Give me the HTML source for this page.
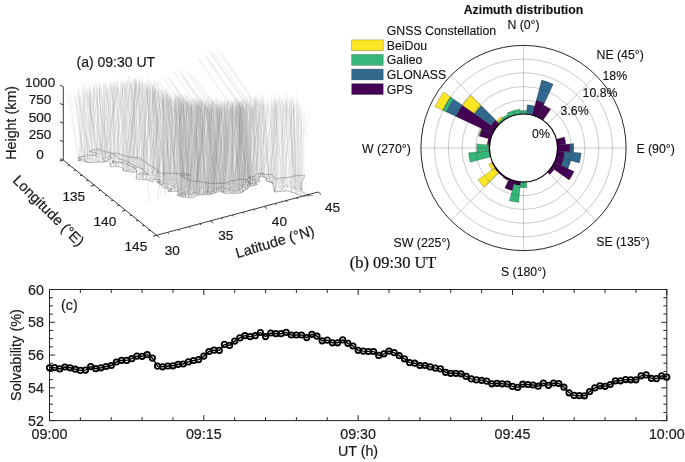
<!DOCTYPE html>
<html><head><meta charset="utf-8"><title>GNSS figure</title>
<style>html,body{margin:0;padding:0;background:#fff;overflow:hidden}svg{display:block}svg{will-change:transform}</style>
</head><body><svg width="685" height="462" viewBox="0 0 685 462"><g font-family='"Liberation Sans", sans-serif' font-size="14.3" fill="#1a1a1a" stroke="#1a1a1a" stroke-width="0.2"><rect x="49.5" y="289.5" width="617.3" height="131.1" fill="none" stroke="#262626" stroke-width="1"/><path d="M49.50 420.6v-5.5M49.50 289.5v5.5M80.36 420.6v-3.4M80.36 289.5v3.4M111.23 420.6v-3.4M111.23 289.5v3.4M142.09 420.6v-3.4M142.09 289.5v3.4M172.96 420.6v-3.4M172.96 289.5v3.4M203.82 420.6v-5.5M203.82 289.5v5.5M234.69 420.6v-3.4M234.69 289.5v3.4M265.55 420.6v-3.4M265.55 289.5v3.4M296.42 420.6v-3.4M296.42 289.5v3.4M327.28 420.6v-3.4M327.28 289.5v3.4M358.15 420.6v-5.5M358.15 289.5v5.5M389.01 420.6v-3.4M389.01 289.5v3.4M419.88 420.6v-3.4M419.88 289.5v3.4M450.75 420.6v-3.4M450.75 289.5v3.4M481.61 420.6v-3.4M481.61 289.5v3.4M512.48 420.6v-5.5M512.48 289.5v5.5M543.34 420.6v-3.4M543.34 289.5v3.4M574.20 420.6v-3.4M574.20 289.5v3.4M605.07 420.6v-3.4M605.07 289.5v3.4M635.93 420.6v-3.4M635.93 289.5v3.4M666.80 420.6v-5.5M666.80 289.5v5.5M49.5 289.50h5.5M666.8 289.50h-5.5M49.5 297.69h3.4M666.8 297.69h-3.4M49.5 305.89h3.4M666.8 305.89h-3.4M49.5 314.08h3.4M666.8 314.08h-3.4M49.5 322.27h5.5M666.8 322.27h-5.5M49.5 330.47h3.4M666.8 330.47h-3.4M49.5 338.66h3.4M666.8 338.66h-3.4M49.5 346.86h3.4M666.8 346.86h-3.4M49.5 355.05h5.5M666.8 355.05h-5.5M49.5 363.24h3.4M666.8 363.24h-3.4M49.5 371.44h3.4M666.8 371.44h-3.4M49.5 379.63h3.4M666.8 379.63h-3.4M49.5 387.83h5.5M666.8 387.83h-5.5M49.5 396.02h3.4M666.8 396.02h-3.4M49.5 404.21h3.4M666.8 404.21h-3.4M49.5 412.41h3.4M666.8 412.41h-3.4M49.5 420.60h5.5M666.8 420.60h-5.5" stroke="#262626" stroke-width="1" fill="none"/><path d="M49.50 367.80L54.64 367.60L59.79 368.90L64.93 367.00L70.08 367.80L75.22 369.20L80.36 370.40L85.51 370.10L90.65 366.60L95.80 368.70L100.94 367.80L106.09 366.50L111.23 365.50L116.37 362.00L121.52 360.30L126.66 360.40L131.81 358.70L136.95 356.10L142.09 356.30L147.24 354.70L152.38 358.10L157.53 366.10L162.67 366.80L167.82 366.00L172.96 365.80L178.10 364.30L183.25 364.00L188.39 361.90L193.54 360.50L198.68 359.60L203.82 356.10L208.97 351.50L214.11 350.10L219.26 350.40L224.40 344.40L229.55 345.40L234.69 341.10L239.83 337.90L244.98 335.70L250.12 336.60L255.27 335.70L260.41 332.50L265.55 336.60L270.70 333.00L275.84 333.70L280.99 333.70L286.13 332.40L291.28 335.00L296.42 335.00L301.56 335.00L306.71 337.60L311.85 334.30L317.00 336.20L322.14 340.80L327.28 340.10L332.43 342.80L337.57 342.80L342.72 339.90L347.86 343.30L353.01 346.00L358.15 350.30L363.29 351.10L368.44 351.50L373.58 351.50L378.73 355.40L383.87 353.80L389.01 351.10L394.16 352.60L399.30 355.70L404.45 358.80L409.59 362.60L414.74 363.20L419.88 365.50L425.02 365.50L430.17 366.90L435.31 368.10L440.46 368.90L445.60 372.30L450.74 373.30L455.89 373.30L461.03 373.80L466.18 376.40L471.32 378.90L476.47 379.90L481.61 380.30L486.75 381.10L491.90 383.80L497.04 383.30L502.19 383.80L507.33 384.00L512.47 386.40L517.62 387.40L522.76 384.20L527.91 384.50L533.05 385.00L538.20 386.20L543.34 383.00L548.48 385.30L553.63 383.00L558.77 383.50L563.92 387.20L569.06 392.80L574.21 395.40L579.35 395.70L584.49 395.80L589.64 391.60L594.78 387.90L599.93 385.80L605.07 386.30L610.21 384.50L615.36 380.80L620.50 380.80L625.65 379.60L630.79 379.80L635.93 379.80L641.08 375.80L646.22 374.90L651.37 378.30L656.51 378.60L661.66 375.80L666.80 377.10" stroke="#000" stroke-width="1.4" fill="none"/><g fill="none" stroke="#000" stroke-width="1.8"><circle cx="49.50" cy="367.80" r="2.7"/><circle cx="54.64" cy="367.60" r="2.7"/><circle cx="59.79" cy="368.90" r="2.7"/><circle cx="64.93" cy="367.00" r="2.7"/><circle cx="70.08" cy="367.80" r="2.7"/><circle cx="75.22" cy="369.20" r="2.7"/><circle cx="80.36" cy="370.40" r="2.7"/><circle cx="85.51" cy="370.10" r="2.7"/><circle cx="90.65" cy="366.60" r="2.7"/><circle cx="95.80" cy="368.70" r="2.7"/><circle cx="100.94" cy="367.80" r="2.7"/><circle cx="106.09" cy="366.50" r="2.7"/><circle cx="111.23" cy="365.50" r="2.7"/><circle cx="116.37" cy="362.00" r="2.7"/><circle cx="121.52" cy="360.30" r="2.7"/><circle cx="126.66" cy="360.40" r="2.7"/><circle cx="131.81" cy="358.70" r="2.7"/><circle cx="136.95" cy="356.10" r="2.7"/><circle cx="142.09" cy="356.30" r="2.7"/><circle cx="147.24" cy="354.70" r="2.7"/><circle cx="152.38" cy="358.10" r="2.7"/><circle cx="157.53" cy="366.10" r="2.7"/><circle cx="162.67" cy="366.80" r="2.7"/><circle cx="167.82" cy="366.00" r="2.7"/><circle cx="172.96" cy="365.80" r="2.7"/><circle cx="178.10" cy="364.30" r="2.7"/><circle cx="183.25" cy="364.00" r="2.7"/><circle cx="188.39" cy="361.90" r="2.7"/><circle cx="193.54" cy="360.50" r="2.7"/><circle cx="198.68" cy="359.60" r="2.7"/><circle cx="203.82" cy="356.10" r="2.7"/><circle cx="208.97" cy="351.50" r="2.7"/><circle cx="214.11" cy="350.10" r="2.7"/><circle cx="219.26" cy="350.40" r="2.7"/><circle cx="224.40" cy="344.40" r="2.7"/><circle cx="229.55" cy="345.40" r="2.7"/><circle cx="234.69" cy="341.10" r="2.7"/><circle cx="239.83" cy="337.90" r="2.7"/><circle cx="244.98" cy="335.70" r="2.7"/><circle cx="250.12" cy="336.60" r="2.7"/><circle cx="255.27" cy="335.70" r="2.7"/><circle cx="260.41" cy="332.50" r="2.7"/><circle cx="265.55" cy="336.60" r="2.7"/><circle cx="270.70" cy="333.00" r="2.7"/><circle cx="275.84" cy="333.70" r="2.7"/><circle cx="280.99" cy="333.70" r="2.7"/><circle cx="286.13" cy="332.40" r="2.7"/><circle cx="291.28" cy="335.00" r="2.7"/><circle cx="296.42" cy="335.00" r="2.7"/><circle cx="301.56" cy="335.00" r="2.7"/><circle cx="306.71" cy="337.60" r="2.7"/><circle cx="311.85" cy="334.30" r="2.7"/><circle cx="317.00" cy="336.20" r="2.7"/><circle cx="322.14" cy="340.80" r="2.7"/><circle cx="327.28" cy="340.10" r="2.7"/><circle cx="332.43" cy="342.80" r="2.7"/><circle cx="337.57" cy="342.80" r="2.7"/><circle cx="342.72" cy="339.90" r="2.7"/><circle cx="347.86" cy="343.30" r="2.7"/><circle cx="353.01" cy="346.00" r="2.7"/><circle cx="358.15" cy="350.30" r="2.7"/><circle cx="363.29" cy="351.10" r="2.7"/><circle cx="368.44" cy="351.50" r="2.7"/><circle cx="373.58" cy="351.50" r="2.7"/><circle cx="378.73" cy="355.40" r="2.7"/><circle cx="383.87" cy="353.80" r="2.7"/><circle cx="389.01" cy="351.10" r="2.7"/><circle cx="394.16" cy="352.60" r="2.7"/><circle cx="399.30" cy="355.70" r="2.7"/><circle cx="404.45" cy="358.80" r="2.7"/><circle cx="409.59" cy="362.60" r="2.7"/><circle cx="414.74" cy="363.20" r="2.7"/><circle cx="419.88" cy="365.50" r="2.7"/><circle cx="425.02" cy="365.50" r="2.7"/><circle cx="430.17" cy="366.90" r="2.7"/><circle cx="435.31" cy="368.10" r="2.7"/><circle cx="440.46" cy="368.90" r="2.7"/><circle cx="445.60" cy="372.30" r="2.7"/><circle cx="450.74" cy="373.30" r="2.7"/><circle cx="455.89" cy="373.30" r="2.7"/><circle cx="461.03" cy="373.80" r="2.7"/><circle cx="466.18" cy="376.40" r="2.7"/><circle cx="471.32" cy="378.90" r="2.7"/><circle cx="476.47" cy="379.90" r="2.7"/><circle cx="481.61" cy="380.30" r="2.7"/><circle cx="486.75" cy="381.10" r="2.7"/><circle cx="491.90" cy="383.80" r="2.7"/><circle cx="497.04" cy="383.30" r="2.7"/><circle cx="502.19" cy="383.80" r="2.7"/><circle cx="507.33" cy="384.00" r="2.7"/><circle cx="512.47" cy="386.40" r="2.7"/><circle cx="517.62" cy="387.40" r="2.7"/><circle cx="522.76" cy="384.20" r="2.7"/><circle cx="527.91" cy="384.50" r="2.7"/><circle cx="533.05" cy="385.00" r="2.7"/><circle cx="538.20" cy="386.20" r="2.7"/><circle cx="543.34" cy="383.00" r="2.7"/><circle cx="548.48" cy="385.30" r="2.7"/><circle cx="553.63" cy="383.00" r="2.7"/><circle cx="558.77" cy="383.50" r="2.7"/><circle cx="563.92" cy="387.20" r="2.7"/><circle cx="569.06" cy="392.80" r="2.7"/><circle cx="574.21" cy="395.40" r="2.7"/><circle cx="579.35" cy="395.70" r="2.7"/><circle cx="584.49" cy="395.80" r="2.7"/><circle cx="589.64" cy="391.60" r="2.7"/><circle cx="594.78" cy="387.90" r="2.7"/><circle cx="599.93" cy="385.80" r="2.7"/><circle cx="605.07" cy="386.30" r="2.7"/><circle cx="610.21" cy="384.50" r="2.7"/><circle cx="615.36" cy="380.80" r="2.7"/><circle cx="620.50" cy="380.80" r="2.7"/><circle cx="625.65" cy="379.60" r="2.7"/><circle cx="630.79" cy="379.80" r="2.7"/><circle cx="635.93" cy="379.80" r="2.7"/><circle cx="641.08" cy="375.80" r="2.7"/><circle cx="646.22" cy="374.90" r="2.7"/><circle cx="651.37" cy="378.30" r="2.7"/><circle cx="656.51" cy="378.60" r="2.7"/><circle cx="661.66" cy="375.80" r="2.7"/><circle cx="666.80" cy="377.10" r="2.7"/></g><text x="44" y="294.5" text-anchor="end">60</text><text x="44" y="327.3" text-anchor="end">58</text><text x="44" y="360.1" text-anchor="end">56</text><text x="44" y="392.8" text-anchor="end">54</text><text x="44" y="425.6" text-anchor="end">52</text><text x="49.5" y="439" text-anchor="middle">09:00</text><text x="203.8" y="439" text-anchor="middle">09:15</text><text x="358.1" y="439" text-anchor="middle">09:30</text><text x="512.5" y="439" text-anchor="middle">09:45</text><text x="666.8" y="439" text-anchor="middle">10:00</text><text x="358" y="455.6" text-anchor="middle">UT (h)</text><text transform="translate(20.6,355) rotate(-90)" text-anchor="middle" font-size="14.5">Solvability (%)</text><text x="61" y="310">(c)</text></g><g><path d="M520.23 110.64A37.5 37.5 0 0 1 526.77 110.64L526.46 114.13A34 34 0 0 0 520.54 114.13Z" fill="#35b779" stroke="#000" stroke-opacity="0.35" stroke-width="0.6"/><path d="M527.28 104.77A43.4 43.4 0 0 1 534.73 106.08L532.30 115.16A34 34 0 0 0 526.46 114.13Z" fill="#31688e" stroke="#000" stroke-opacity="0.35" stroke-width="0.6"/><path d="M536.29 100.28A49.4 49.4 0 0 1 544.38 103.23L537.87 117.19A34 34 0 0 0 532.30 115.16Z" fill="#440154" stroke="#000" stroke-opacity="0.35" stroke-width="0.6"/><path d="M541.69 80.10A70.3 70.3 0 0 1 553.21 84.29L544.38 103.23A49.4 49.4 0 0 0 536.29 100.28Z" fill="#31688e" stroke="#000" stroke-opacity="0.35" stroke-width="0.6"/><path d="M543.49 105.13A47.3 47.3 0 0 1 550.63 109.25L543.00 120.15A34 34 0 0 0 537.87 117.19Z" fill="#440154" stroke="#000" stroke-opacity="0.35" stroke-width="0.6"/><path d="M564.46 137.03A42.4 42.4 0 0 1 565.74 144.30L557.37 145.04A34 34 0 0 0 556.34 139.20Z" fill="#440154" stroke="#000" stroke-opacity="0.35" stroke-width="0.6"/><path d="M569.72 143.96A46.4 46.4 0 0 1 569.72 152.04L557.37 150.96A34 34 0 0 0 557.37 145.04Z" fill="#440154" stroke="#000" stroke-opacity="0.35" stroke-width="0.6"/><path d="M573.61 143.62A50.3 50.3 0 0 1 573.61 152.38L569.72 152.04A46.4 46.4 0 0 0 569.72 143.96Z" fill="#31688e" stroke="#000" stroke-opacity="0.35" stroke-width="0.6"/><path d="M564.74 151.61A41.4 41.4 0 0 1 563.49 158.72L556.34 156.80A34 34 0 0 0 557.37 150.96Z" fill="#440154" stroke="#000" stroke-opacity="0.35" stroke-width="0.6"/><path d="M581.18 153.05A57.9 57.9 0 0 1 579.43 162.99L563.49 158.72A41.4 41.4 0 0 0 564.74 151.61Z" fill="#31688e" stroke="#000" stroke-opacity="0.35" stroke-width="0.6"/><path d="M563.59 158.74A41.5 41.5 0 0 1 561.11 165.54L554.31 162.37A34 34 0 0 0 556.34 156.80Z" fill="#440154" stroke="#000" stroke-opacity="0.35" stroke-width="0.6"/><path d="M570.83 160.68A49.0 49.0 0 0 1 567.91 168.71L561.11 165.54A41.5 41.5 0 0 0 563.59 158.74Z" fill="#31688e" stroke="#000" stroke-opacity="0.35" stroke-width="0.6"/><path d="M574.07 171.58A55.8 55.8 0 0 1 569.21 180.01L551.35 167.50A34 34 0 0 0 554.31 162.37Z" fill="#440154" stroke="#000" stroke-opacity="0.35" stroke-width="0.6"/><path d="M554.05 169.39A37.3 37.3 0 0 1 549.88 174.38L547.54 172.04A34 34 0 0 0 551.35 167.50Z" fill="#440154" stroke="#000" stroke-opacity="0.35" stroke-width="0.6"/><path d="M526.96 187.55A39.7 39.7 0 0 1 520.04 187.55L520.54 181.87A34 34 0 0 0 526.46 181.87Z" fill="#35b779" stroke="#000" stroke-opacity="0.35" stroke-width="0.6"/><path d="M520.24 185.26A37.4 37.4 0 0 1 513.82 184.13L514.70 180.84A34 34 0 0 0 520.54 181.87Z" fill="#440154" stroke="#000" stroke-opacity="0.35" stroke-width="0.6"/><path d="M518.74 202.39A54.6 54.6 0 0 1 509.37 200.74L513.82 184.13A37.4 37.4 0 0 0 520.24 185.26Z" fill="#35b779" stroke="#000" stroke-opacity="0.35" stroke-width="0.6"/><path d="M512.11 190.50A44.0 44.0 0 0 1 504.90 187.88L509.13 178.81A34 34 0 0 0 514.70 180.84Z" fill="#440154" stroke="#000" stroke-opacity="0.35" stroke-width="0.6"/><path d="M508.37 180.45A35.8 35.8 0 0 1 502.97 177.33L504.00 175.85A34 34 0 0 0 509.13 178.81Z" fill="#440154" stroke="#000" stroke-opacity="0.35" stroke-width="0.6"/><path d="M503.31 176.83A35.2 35.2 0 0 1 498.61 172.89L499.46 172.04A34 34 0 0 0 504.00 175.85Z" fill="#440154" stroke="#000" stroke-opacity="0.35" stroke-width="0.6"/><path d="M498.47 173.03A35.4 35.4 0 0 1 494.50 168.30L495.65 167.50A34 34 0 0 0 499.46 172.04Z" fill="#440154" stroke="#000" stroke-opacity="0.35" stroke-width="0.6"/><path d="M484.26 187.24A55.5 55.5 0 0 1 478.04 179.83L494.50 168.30A35.4 35.4 0 0 0 498.47 173.03Z" fill="#fde725" stroke="#000" stroke-opacity="0.35" stroke-width="0.6"/><path d="M494.83 168.08A35.0 35.0 0 0 1 491.78 162.79L492.69 162.37A34 34 0 0 0 495.65 167.50Z" fill="#440154" stroke="#000" stroke-opacity="0.35" stroke-width="0.6"/><path d="M492.13 169.97A38.3 38.3 0 0 1 488.79 164.19L491.78 162.79A35.0 35.0 0 0 0 494.83 168.08Z" fill="#fde725" stroke="#000" stroke-opacity="0.35" stroke-width="0.6"/><path d="M490.08 156.96A34.6 34.6 0 0 1 489.03 151.02L489.63 150.96A34 34 0 0 0 490.66 156.80Z" fill="#440154" stroke="#000" stroke-opacity="0.35" stroke-width="0.6"/><path d="M470.18 162.29A55.2 55.2 0 0 1 468.51 152.81L489.03 151.02A34.6 34.6 0 0 0 490.08 156.96Z" fill="#35b779" stroke="#000" stroke-opacity="0.35" stroke-width="0.6"/><path d="M488.63 151.05A35.0 35.0 0 0 1 488.63 144.95L489.63 145.04A34 34 0 0 0 489.63 150.96Z" fill="#440154" stroke="#000" stroke-opacity="0.35" stroke-width="0.6"/><path d="M476.98 152.07A46.7 46.7 0 0 1 476.98 143.93L488.63 144.95A35.0 35.0 0 0 0 488.63 151.05Z" fill="#35b779" stroke="#000" stroke-opacity="0.35" stroke-width="0.6"/><path d="M487.24 144.83A36.4 36.4 0 0 1 488.34 138.58L490.66 139.20A34 34 0 0 0 489.63 145.04Z" fill="#440154" stroke="#000" stroke-opacity="0.35" stroke-width="0.6"/><path d="M479.45 136.20A45.6 45.6 0 0 1 482.17 128.73L492.69 133.63A34 34 0 0 0 490.66 139.20Z" fill="#440154" stroke="#000" stroke-opacity="0.35" stroke-width="0.6"/><path d="M478.97 136.07A46.1 46.1 0 0 1 481.72 128.52L482.17 128.73A45.6 45.6 0 0 0 479.45 136.20Z" fill="#35b779" stroke="#000" stroke-opacity="0.35" stroke-width="0.6"/><path d="M478.58 135.96A46.5 46.5 0 0 1 481.36 128.35L481.72 128.52A46.1 46.1 0 0 0 478.97 136.07Z" fill="#fde725" stroke="#000" stroke-opacity="0.35" stroke-width="0.6"/><path d="M455.98 116.51A74.5 74.5 0 0 1 462.47 105.27L495.65 128.50A34 34 0 0 0 492.69 133.63Z" fill="#440154" stroke="#000" stroke-opacity="0.35" stroke-width="0.6"/><path d="M446.01 111.87A85.5 85.5 0 0 1 453.46 98.96L462.47 105.27A74.5 74.5 0 0 0 455.98 116.51Z" fill="#31688e" stroke="#000" stroke-opacity="0.35" stroke-width="0.6"/><path d="M442.66 110.30A89.2 89.2 0 0 1 450.43 96.84L453.46 98.96A85.5 85.5 0 0 0 446.01 111.87Z" fill="#35b779" stroke="#000" stroke-opacity="0.35" stroke-width="0.6"/><path d="M435.04 106.75A97.6 97.6 0 0 1 443.55 92.02L450.43 96.84A89.2 89.2 0 0 0 442.66 110.30Z" fill="#fde725" stroke="#000" stroke-opacity="0.35" stroke-width="0.6"/><path d="M491.14 125.34A39.5 39.5 0 0 1 495.57 120.07L499.46 123.96A34 34 0 0 0 495.65 128.50Z" fill="#440154" stroke="#000" stroke-opacity="0.35" stroke-width="0.6"/><path d="M474.35 113.59A60.0 60.0 0 0 1 481.07 105.57L495.57 120.07A39.5 39.5 0 0 0 491.14 125.34Z" fill="#31688e" stroke="#000" stroke-opacity="0.35" stroke-width="0.6"/><path d="M462.39 105.21A74.6 74.6 0 0 1 470.75 95.25L481.07 105.57A60.0 60.0 0 0 0 474.35 113.59Z" fill="#fde725" stroke="#000" stroke-opacity="0.35" stroke-width="0.6"/><path d="M497.76 122.26A36.4 36.4 0 0 1 502.62 118.18L504.00 120.15A34 34 0 0 0 499.46 123.96Z" fill="#35b779" stroke="#000" stroke-opacity="0.35" stroke-width="0.6"/><path d="M496.49 120.99A38.2 38.2 0 0 1 501.59 116.71L502.62 118.18A36.4 36.4 0 0 0 497.76 122.26Z" fill="#fde725" stroke="#000" stroke-opacity="0.35" stroke-width="0.6"/><path d="M502.28 117.69A37.0 37.0 0 0 1 507.86 114.47L509.13 117.19A34 34 0 0 0 504.00 120.15Z" fill="#35b779" stroke="#000" stroke-opacity="0.35" stroke-width="0.6"/><path d="M507.19 113.02A38.6 38.6 0 0 1 513.51 110.72L514.70 115.16A34 34 0 0 0 509.13 117.19Z" fill="#35b779" stroke="#000" stroke-opacity="0.35" stroke-width="0.6"/><path d="M513.46 110.52A38.8 38.8 0 0 1 520.12 109.35L520.54 114.13A34 34 0 0 0 514.70 115.16Z" fill="#35b779" stroke="#000" stroke-opacity="0.35" stroke-width="0.6"/><g fill="none" stroke="#262626" stroke-opacity="0.27" stroke-width="0.9"><circle cx="523.5" cy="148.0" r="47.72"/><circle cx="523.5" cy="148.0" r="61.44"/><circle cx="523.5" cy="148.0" r="75.16"/><circle cx="523.5" cy="148.0" r="88.88"/><path d="M523.50 114.00L523.50 45.40"/><path d="M547.54 123.96L596.05 75.45"/><path d="M557.50 148.00L626.10 148.00"/><path d="M547.54 172.04L596.05 220.55"/><path d="M523.50 182.00L523.50 250.60"/><path d="M499.46 172.04L450.95 220.55"/><path d="M489.50 148.00L420.90 148.00"/><path d="M499.46 123.96L450.95 75.45"/></g><circle cx="523.5" cy="148.0" r="102.6" fill="none" stroke="#262626" stroke-width="1"/><circle cx="523.5" cy="148.0" r="34.0" fill="none" stroke="#000" stroke-width="1.1"/></g><g font-family='"Liberation Sans", sans-serif' font-size="12.3" fill="#111" stroke="#111" stroke-width="0.12"><text x="523.5" y="13.9" text-anchor="middle" font-weight="bold">Azimuth distribution</text><text x="523.5" y="28.6" text-anchor="middle">N (0°)</text><text x="596.5" y="58.7">NE (45°)</text><text x="636.4" y="153">E (90°)</text><text x="596.2" y="246.1">SE (135°)</text><text x="523.6" y="275.8" text-anchor="middle">S (180°)</text><text x="393.6" y="247">SW (225°)</text><text x="362.1" y="153.4">W (270°)</text><text x="602.5" y="79.7">18%</text><text x="582.6" y="97">10.8%</text><text x="560.6" y="114.9">3.6%</text><text x="532.1" y="137.5">0%</text><text x="386.8" y="34.9">GNSS Constellation</text><rect x="351.7" y="39.9" width="31.5" height="10.8" fill="#fde725" stroke="#000" stroke-opacity="0.4" stroke-width="0.6"/><text x="386.8" y="49.7">BeiDou</text><rect x="351.7" y="54.5" width="31.5" height="10.8" fill="#35b779" stroke="#000" stroke-opacity="0.4" stroke-width="0.6"/><text x="386.8" y="64.3">Galieo</text><rect x="351.7" y="69.1" width="31.5" height="10.8" fill="#31688e" stroke="#000" stroke-opacity="0.4" stroke-width="0.6"/><text x="386.8" y="78.9">GLONASS</text><rect x="351.7" y="83.7" width="31.5" height="10.8" fill="#440154" stroke="#000" stroke-opacity="0.4" stroke-width="0.6"/><text x="386.8" y="93.5">GPS</text></g><text x="349.8" y="268.1" font-family='"Liberation Serif", serif' font-size="16.4" fill="#111" stroke="#111" stroke-width="0.2">(b) 09:30 UT</text><path d="M168.3 174.9L177.6 102.8M168.6 180.0L180.2 105.8M168.0 191.3L161.8 95.9M168.7 184.8L174.2 100.1M168.6 187.2L175.2 103.9M168.4 188.8L163.0 88.9M168.3 187.3L171.5 107.4M168.5 190.9L166.4 99.6M169.9 184.7L165.0 100.6M169.4 183.8L168.9 99.0M169.8 175.2L164.4 98.2M169.4 191.6L179.4 103.9M169.7 187.3L172.9 92.0M169.8 190.9L171.1 94.7M169.2 186.0L161.4 89.7M169.3 179.0L164.9 99.5M170.0 191.5L172.5 110.0M170.6 191.1L171.1 97.1M170.8 189.4L179.2 96.7M170.4 179.9L172.1 95.4M170.9 184.9L171.9 100.5M170.8 174.5L162.0 92.4M170.5 180.9L160.4 88.2M170.4 190.3L161.7 91.8M170.4 188.1L178.3 100.5M171.2 189.6L147.2 85.7M171.6 184.9L162.1 99.9M171.2 188.4L163.9 89.1M171.3 189.0L164.1 99.4M171.0 182.9L169.0 98.4M171.2 188.8L177.9 101.8M171.2 189.6L175.2 105.0M172.0 183.6L151.3 89.0M172.7 190.1L161.8 90.9M172.1 190.5L177.6 97.7M173.0 188.4L175.9 97.8M172.4 184.9L181.9 104.8M172.2 179.9L156.6 89.7M172.1 181.5L168.8 101.5M172.2 188.4L180.5 100.9M172.2 188.3L182.3 103.1M172.1 186.1L177.1 95.8M172.5 187.6L183.9 99.0M172.1 186.1L165.7 101.3M173.3 185.0L175.4 108.5M173.7 187.4L162.9 96.4M173.6 187.6L176.9 98.0M173.5 186.5L176.1 99.3M173.3 190.9L167.1 94.8M173.0 179.7L166.3 93.4M173.4 190.3L177.1 102.2M173.2 186.0L159.4 88.7M174.3 188.6L156.9 90.4M175.0 187.4L186.5 99.6M174.8 177.8L165.8 89.8M174.7 189.6L170.1 92.8M174.4 187.8L187.5 102.0M174.4 184.4L169.9 99.0M174.7 190.9L184.1 103.7M174.2 179.3L183.2 99.1M174.2 189.8L187.3 100.9M174.6 186.6L182.5 93.8M174.6 187.8L175.0 97.3M174.6 180.7L170.7 100.2M175.2 185.5L172.5 99.9M175.2 188.1L170.6 99.0M175.0 173.5L167.6 98.6M175.0 185.7L170.6 95.3M175.3 180.1L178.1 105.0M175.0 190.7L166.8 89.1M175.2 189.3L170.4 95.7M175.3 184.4L170.6 96.5M175.1 185.6L180.3 106.9M175.5 188.8L162.3 95.8M176.0 188.5L172.6 104.6M176.4 184.0L167.1 94.3M176.7 185.1L182.2 104.9M176.8 190.9L174.6 91.9M176.0 186.2L181.6 100.4M176.9 187.3L170.8 97.8M176.4 187.5L176.5 95.5M176.6 182.1L180.8 99.8M176.0 188.4L188.3 100.1M177.4 190.4L165.6 94.7M177.1 191.4L174.4 101.8M177.7 186.3L165.7 91.6M177.6 191.7L187.2 102.0M177.0 194.8L187.7 106.5M177.3 193.6L175.6 99.6M177.9 193.6L170.7 99.7M177.0 190.2L177.8 97.8M177.7 189.0L171.5 99.9M177.8 188.4L178.8 98.0M177.6 194.9L179.3 102.3M177.3 190.9L166.9 91.8M178.3 189.2L174.6 103.3M178.3 184.6L165.5 98.8M178.9 191.0L184.0 99.4M178.3 188.4L175.6 97.5M178.1 187.3L186.1 101.0M178.7 189.6L184.2 96.4M178.7 189.1L185.3 101.4M178.1 191.1L182.1 94.0M178.2 195.0L198.5 101.7M178.8 189.8L162.5 96.7M178.6 189.6L180.0 96.6M178.7 187.8L168.1 101.8M178.5 191.1L181.7 97.5M178.5 192.5L165.3 95.6M178.8 192.8L196.6 102.1M179.8 195.7L179.7 95.5M179.9 188.9L179.6 95.2M179.0 193.8L173.7 98.1M179.9 192.8L179.6 101.1M179.5 193.1L185.8 94.8M179.4 195.7L174.1 94.3M179.1 191.0L179.6 98.5M179.8 195.4L172.8 103.1M179.8 189.9L175.0 95.9M179.5 190.7L192.5 103.2M179.8 193.6L181.1 100.3M179.5 189.9L182.0 99.2M179.8 192.8L187.1 100.7M180.4 187.5L193.9 110.6M180.6 193.5L178.3 94.0M180.8 188.2L186.8 105.9M180.2 177.2L175.2 98.4M180.9 191.3L181.6 103.0M181.0 192.5L181.7 105.3M180.9 190.6L183.6 105.1M180.9 194.5L179.6 99.1M180.8 190.8L190.1 103.1M181.5 189.3L173.3 101.8M181.3 194.9L180.0 105.9M181.7 188.6L187.6 98.0M181.7 192.2L179.6 97.4M181.4 190.1L185.5 95.3M181.2 184.9L166.8 96.1M181.7 186.7L180.7 104.2M181.7 196.4L185.6 107.2M181.3 189.8L189.4 108.1M181.7 195.9L184.0 94.0M181.0 194.2L176.6 90.4M181.9 193.4L188.1 107.2M181.6 191.8L180.8 94.8M181.0 196.0L187.4 104.0M181.6 191.3L179.5 101.7M181.1 194.8L182.3 99.4M182.2 193.4L184.0 103.7M182.1 193.9L178.2 93.6M182.2 195.6L183.3 104.8M182.5 193.7L174.4 100.0M182.3 196.4L184.8 102.3M182.9 190.2L183.5 102.5M182.1 191.1L174.1 94.0M182.2 188.6L175.1 92.5M182.4 195.0L182.9 101.2M182.5 188.4L172.7 106.3M182.2 182.9L180.4 97.6M182.2 174.7L191.7 107.7M182.9 192.1L167.2 84.7M182.1 195.5L195.3 103.6M183.4 181.8L176.8 92.2M184.0 191.5L193.8 108.4M183.2 187.9L186.7 105.4M183.4 196.9L165.4 95.3M183.3 179.2L177.8 99.9M183.9 191.8L178.1 97.6M183.8 196.5L177.4 95.6M183.9 195.6L181.6 98.3M183.1 185.2L180.8 98.6M183.3 185.9L190.0 104.2M183.2 192.5L188.1 102.4M183.1 195.7L175.1 96.1M183.1 196.7L187.6 102.7M184.0 192.8L191.7 104.2M184.0 193.2L191.0 105.2M183.6 189.6L187.3 101.1M184.2 195.1L184.8 97.3M184.4 178.4L173.4 103.9M184.3 191.7L171.7 95.9M184.9 193.1L180.2 98.6M184.3 196.9L183.9 93.4M184.3 191.4L198.6 112.6M185.8 193.6L180.7 94.2M185.3 188.5L191.0 102.8M185.6 189.7L188.9 96.6M185.3 195.8L178.1 99.1M185.5 195.0L166.9 90.9M185.1 193.5L192.4 102.5M185.7 196.4L186.7 95.2M185.6 195.8L174.2 97.4M185.9 188.5L192.5 98.8M185.9 186.8L186.6 95.8M185.7 187.4L175.0 95.0M185.0 196.0L181.4 101.0M185.5 194.4L178.6 89.7M185.8 192.4L177.3 96.8M185.5 183.7L187.8 100.4M185.7 196.3L174.5 101.1M185.8 191.1L175.5 97.4M185.0 186.9L182.7 99.8M186.5 186.8L192.2 101.3M186.7 182.0L192.2 102.3M186.8 195.5L192.6 105.6M186.5 191.9L170.6 98.1M186.9 188.5L177.9 95.0M186.9 186.2L183.3 99.0M186.4 192.3L178.2 94.3M186.9 190.6L190.4 96.2M186.3 190.1L200.0 101.0M186.4 193.8L174.1 94.8M186.1 192.6L193.8 97.0M186.5 192.9L186.9 113.0M187.4 192.4L181.6 95.4M187.5 192.4L188.6 110.9M188.0 182.0L190.1 102.6M187.0 195.1L188.1 95.6M187.5 195.1L183.4 102.9M187.8 191.3L185.3 106.9M187.8 191.6L182.9 95.7M187.1 193.9L175.3 108.6M187.8 196.2L201.1 103.1M187.4 193.8L193.3 108.5M187.4 186.2L189.0 104.6M188.8 192.7L177.9 92.2M188.8 190.6L194.6 99.8M189.0 180.8L200.1 101.0M188.5 194.0L200.4 101.6M188.6 194.5L185.8 100.4M188.8 177.2L185.8 99.3M188.3 197.2L188.8 99.9M188.1 195.5L182.6 95.6M188.2 187.0L181.8 94.2M188.2 195.5L188.5 96.4M189.0 194.2L179.2 97.1M188.7 187.4L185.4 102.9M188.2 190.3L186.0 99.1M188.9 195.5L183.5 98.7M188.5 196.1L181.9 104.4M188.9 181.5L186.3 94.6M188.6 185.4L184.5 101.2M188.6 195.0L194.7 102.6M188.5 196.0L198.2 97.1M188.8 190.8L201.6 102.0M188.2 190.1L188.6 103.3M188.1 193.7L168.4 100.9M188.6 194.0L180.4 102.2M189.5 195.5L190.6 103.3M189.6 187.2L197.9 102.3M189.6 186.1L195.9 105.4M189.8 182.7L183.4 104.2M189.2 195.4L191.7 98.4M189.3 189.2L196.2 107.5M189.6 196.8L202.3 98.0M189.7 184.8L198.2 106.4M190.0 190.0L182.1 98.7M189.1 185.4L197.4 104.8M189.2 189.9L205.3 102.7M189.0 195.7L200.0 101.4M189.7 197.0L178.9 101.8M189.1 194.8L198.6 105.1M189.9 194.2L192.0 104.6M189.2 193.1L196.8 101.0M189.4 183.2L189.6 107.5M189.6 187.6L190.0 103.8M189.1 189.9L181.1 97.7M189.0 191.6L188.8 103.0M190.8 196.5L197.3 104.2M191.0 194.8L182.5 112.8M190.9 194.9L187.4 101.4M190.9 182.9L182.7 104.9M190.5 196.3L191.6 103.8M190.8 189.5L193.3 100.1M190.1 189.4L175.1 94.4M190.5 197.2L202.5 105.7M190.3 194.3L189.4 105.1M190.6 196.7L190.8 105.3M190.9 186.7L192.6 99.5M190.1 193.2L193.1 104.8M190.8 191.7L187.6 96.2M190.5 193.4L191.3 103.0M190.2 193.8L183.9 99.9M191.7 186.2L188.0 96.6M191.6 194.1L167.4 96.6M191.5 195.1L186.9 102.8M191.0 196.4L196.3 99.9M191.6 194.5L168.6 98.2M191.1 193.7L182.0 98.6M191.9 195.4L191.3 97.4M191.6 195.6L200.3 108.4M191.9 189.7L195.7 98.2M191.2 195.1L190.5 100.9M191.9 188.6L214.0 105.5M191.0 185.3L201.8 101.3M192.6 194.7L191.9 109.4M192.5 194.8L199.9 109.1M192.7 197.2L182.1 98.8M192.5 193.8L198.0 102.4M192.7 192.1L196.7 106.7M192.7 197.4L197.1 106.0M192.8 192.7L185.6 100.7M193.4 196.0L191.2 98.6M193.2 194.4L204.8 102.6M193.5 197.0L205.1 104.6M193.9 194.0L205.9 106.1M193.2 182.6L176.6 99.1M193.1 193.6L198.2 101.5M193.5 194.2L197.5 100.5M193.1 186.4L198.0 101.9M193.4 195.6L209.8 111.6M193.5 186.6L176.1 98.9M193.4 191.8L192.4 111.3M194.0 192.7L206.3 102.9M193.2 191.7L187.0 103.7M193.3 184.2L198.9 107.7M193.6 195.3L190.2 108.9M193.7 189.7L193.6 90.1M194.2 186.1L175.3 103.9M194.1 191.7L199.1 97.3M194.1 192.0L209.6 99.0M194.3 193.4L173.6 100.1M194.5 190.3L191.3 106.5M194.3 191.5L184.9 102.0M194.2 193.4L195.1 100.3M194.3 192.7L189.4 106.3M195.7 184.8L200.5 106.0M196.0 188.4L178.8 96.8M195.6 194.0L206.2 98.2M195.4 193.5L197.6 105.7M195.0 190.9L190.2 113.1M195.1 192.7L183.9 95.7M195.2 192.9L190.0 99.9M195.1 195.3L195.1 96.4M195.5 192.7L201.6 101.1M195.8 193.8L205.5 106.7M195.2 187.4L197.4 94.4M195.7 192.5L208.1 105.6M195.1 194.5L204.5 106.1M195.5 189.5L200.3 98.8M195.2 185.6L182.1 98.5M195.2 195.6L187.4 102.2M195.1 196.0L206.9 101.2M195.6 192.9L192.9 99.6M195.8 188.5L216.1 98.6M195.8 192.5L203.6 98.1M195.9 194.9L201.4 108.9M197.0 195.3L201.8 107.5M196.6 187.1L205.5 107.3M196.7 191.9L198.2 99.4M196.7 192.3L200.6 108.4M196.0 191.1L207.2 106.0M196.6 191.8L191.9 105.5M196.8 194.2L189.8 103.0M196.1 191.6L198.8 105.0M196.7 191.0L205.4 101.2M196.2 192.9L205.3 100.5M196.1 191.4L194.0 105.0M197.2 190.0L196.2 103.2M197.2 192.9L193.7 109.9M197.8 189.7L187.6 101.5M197.2 192.7L193.2 103.9M197.5 183.1L202.2 101.0M197.2 188.0L195.9 101.9M197.1 188.5L193.3 103.7M197.6 193.6L195.0 98.3M197.5 188.7L198.7 102.8M197.0 193.6L197.6 105.3M197.7 185.7L201.5 99.7M197.9 192.3L196.1 101.1M197.9 191.6L186.9 94.5M199.0 194.5L190.0 99.0M198.2 193.4L203.6 102.2M198.8 189.9L200.8 100.7M198.8 194.4L197.8 103.4M198.9 191.6L204.7 98.6M198.4 182.9L199.5 111.8M198.7 194.4L206.1 106.1M198.4 192.1L179.1 94.1M199.0 190.4L195.0 99.6M198.8 186.9L198.8 101.2M198.2 193.8L196.5 103.5M198.6 189.8L195.4 103.5M198.2 193.8L206.4 109.3M198.9 194.0L189.6 99.2M198.8 193.4L204.9 102.4M198.1 194.1L200.5 100.4M198.8 189.6L212.3 101.4M198.1 183.3L190.2 99.8M198.3 193.7L189.2 101.1M199.0 188.4L194.0 97.4M199.8 187.7L195.7 103.9M199.9 187.4L190.1 96.6M199.9 193.2L192.8 98.0M199.5 192.3L194.3 102.0M199.5 192.4L207.2 102.2M199.9 181.8L204.8 113.5M199.6 191.3L208.8 104.9M199.5 190.1L191.6 100.8M199.7 191.2L203.5 100.5M199.2 189.7L203.5 105.8M199.3 188.9L193.4 101.6M200.1 190.8L191.5 102.1M200.4 191.4L213.3 103.0M200.7 190.4L195.8 97.9M200.5 188.7L213.1 101.0M200.1 191.1L201.0 102.2M200.1 192.6L197.7 106.8M200.3 188.3L201.1 102.9M200.3 193.7L210.5 106.9M200.2 189.7L200.5 96.4M201.5 192.9L200.7 106.4M201.1 190.7L197.2 108.3M201.9 187.7L187.7 101.7M201.7 193.0L179.6 94.5M201.3 194.4L212.3 109.1M201.4 187.9L199.0 104.5M201.8 192.2L198.0 109.1M201.4 190.1L211.2 100.2M201.6 190.3L193.1 100.7M201.7 191.9L197.4 106.8M201.2 192.0L194.4 98.7M201.8 192.4L202.4 107.0M202.2 194.3L210.1 96.5M202.2 184.9L202.7 101.3M202.2 186.0L193.2 104.6M202.1 188.9L202.0 102.5M202.9 193.5L205.0 102.7M202.9 188.6L197.4 104.8M203.8 186.7L201.6 106.7M203.5 189.1L202.1 99.7M203.6 194.7L205.2 110.1M203.3 191.8L204.3 103.6M203.2 192.2L190.6 101.4M203.6 192.8L201.3 104.3M203.3 187.6L205.5 101.5M203.4 194.2L198.8 99.1M204.0 193.3L214.8 99.6M203.6 194.1L197.4 100.5M203.3 188.7L211.3 101.6M203.7 188.3L187.3 104.9M203.5 193.8L206.7 109.1M203.8 191.3L204.7 104.9M203.8 191.5L187.5 106.0M204.8 193.7L204.6 111.7M205.0 188.6L199.4 100.6M204.1 192.9L198.1 104.9M204.1 190.4L201.4 99.0M204.6 191.4L202.3 104.6M204.7 191.7L212.7 99.1M204.2 191.3L205.0 104.4M204.2 193.9L202.6 109.5M204.8 190.5L202.0 100.8M204.2 192.5L190.0 97.9M205.9 192.2L199.6 101.8M205.4 192.2L213.9 107.9M205.8 185.6L199.4 105.7M205.5 193.1L210.7 107.6M205.3 194.2L207.9 98.6M205.7 184.6L194.5 104.1M205.6 186.6L214.4 104.8M205.3 193.7L208.0 107.0M205.4 192.8L209.7 105.4M206.0 191.6L209.9 104.6M205.7 192.1L198.3 100.3M205.7 185.9L199.6 102.6M205.9 187.1L195.8 106.2M205.5 193.2L206.9 104.3M206.0 186.6L200.9 103.8M206.8 190.9L222.2 106.8M206.6 193.9L208.2 111.1M206.7 192.8L201.7 110.1M206.4 194.5L214.4 104.7M206.2 187.2L199.3 101.9M206.4 190.2L210.5 101.6M206.2 192.2L199.1 101.4M206.3 190.0L206.5 110.4M206.1 191.6L214.9 110.8M206.7 191.5L198.4 101.2M206.9 194.4L208.8 102.8M207.8 192.0L215.5 103.7M207.3 191.2L212.3 99.3M207.5 190.9L211.5 110.3M207.3 189.8L215.0 103.0M207.8 191.4L211.7 103.8M207.8 191.7L203.7 107.9M207.2 191.2L195.4 100.8M207.7 193.6L214.1 101.7M207.5 184.5L211.3 106.8M207.1 191.0L196.9 99.2M207.8 193.4L187.7 105.1M207.9 194.0L212.5 100.4M207.6 194.1L204.9 101.4M207.2 193.6L233.6 104.4M207.3 192.7L218.4 107.2M207.8 190.0L207.4 106.5M207.7 189.5L208.7 92.9M207.8 193.8L207.4 105.1M207.3 192.8L223.4 102.7M207.6 192.8L221.7 100.8M207.4 194.5L201.6 96.2M207.4 192.4L224.8 102.6M207.3 188.9L200.7 105.7M207.3 189.8L207.2 104.7M207.0 183.0L223.4 104.9M208.0 185.0L218.8 104.7M208.4 194.4L208.9 112.0M208.4 187.8L216.8 104.5M208.4 194.2L230.3 101.1M208.7 193.5L203.1 108.9M208.4 191.2L220.0 109.2M208.0 191.8L211.8 101.1M209.0 193.7L211.8 95.2M208.5 192.1L217.1 102.5M208.7 192.8L188.5 103.0M208.3 192.7L210.9 100.5M208.9 190.2L212.5 103.0M208.3 188.3L211.9 99.3M208.4 193.4L208.3 105.9M209.4 192.3L185.0 105.0M210.0 192.4L216.3 105.9M209.9 192.2L196.4 110.7M209.3 191.6L213.0 113.5M209.3 194.5L201.6 106.2M209.7 193.1L218.6 103.2M209.4 192.1L202.8 101.8M209.7 193.8L234.7 109.0M209.2 187.1L201.1 98.7M209.3 192.0L226.5 109.3M209.1 190.7L208.9 101.7M210.9 190.8L211.2 106.3M210.4 187.2L221.6 104.5M210.4 190.1L215.2 108.8M210.5 193.7L216.7 99.4M210.2 189.1L225.2 98.5M210.1 191.1L209.1 109.3M210.4 187.2L201.7 112.6M210.6 193.0L213.5 99.4M210.0 193.7L211.3 99.8M210.3 192.1L213.8 97.1M210.7 191.1L220.1 104.8M210.3 193.7L209.6 103.5M211.5 192.7L223.7 102.0M211.3 190.3L206.3 99.8M211.5 189.5L215.1 106.7M211.9 191.5L202.4 109.1M211.2 191.9L205.2 100.3M211.8 193.3L207.2 101.1M211.6 192.1L215.9 108.0M211.9 192.0L233.1 103.3M211.4 183.5L201.2 104.2M211.5 193.5L217.8 100.6M211.4 189.8L210.1 106.0M211.3 193.4L216.7 98.8M211.7 194.0L211.6 106.1M212.0 188.8L213.1 107.2M212.0 188.3L210.6 104.5M211.8 193.4L217.3 105.6M212.2 189.1L220.2 106.9M212.4 191.3L212.6 100.9M212.3 189.0L228.0 102.7M212.1 191.4L220.3 108.1M212.6 193.7L208.2 98.4M212.4 192.6L218.3 106.0M212.3 186.6L204.4 105.8M212.2 190.1L220.7 109.2M212.6 192.2L218.5 102.6M212.8 189.6L219.6 102.7M213.7 191.0L211.1 107.7M213.8 188.1L222.4 106.5M213.2 190.8L208.9 104.9M213.7 189.5L212.1 103.4M213.8 187.3L215.4 104.4M213.3 190.8L206.3 99.0M213.4 192.7L220.8 106.9M213.6 193.1L219.7 104.5M213.7 193.1L220.7 100.2M213.8 190.1L217.2 103.3M213.1 190.7L218.3 107.3M213.7 187.1L207.9 103.8M213.2 192.2L196.2 103.2M213.1 191.9L220.2 106.7M213.7 186.4L215.2 110.7M213.6 191.3L216.4 108.2M213.5 189.8L214.5 96.7M214.2 190.5L207.1 104.2M214.7 190.1L213.3 107.6M214.5 191.6L220.3 106.8M214.2 191.6L199.3 106.5M214.2 191.4L219.2 107.6M214.5 190.7L217.1 107.1M214.6 190.4L220.6 109.0M214.3 189.0L199.3 102.3M214.4 188.9L206.0 103.4M214.8 191.0L213.9 103.3M214.3 188.6L211.7 95.6M214.1 188.2L213.0 102.2M214.8 193.0L217.7 99.7M214.9 191.2L228.1 103.1M215.9 186.3L212.5 108.2M215.2 189.2L217.8 105.8M215.0 187.7L226.2 112.3M215.0 190.9L202.3 97.1M215.7 192.2L228.8 99.1M215.6 188.2L217.1 107.4M215.4 192.3L208.5 105.8M215.8 190.8L218.9 100.0M215.8 192.7L208.8 96.6M215.6 191.6L206.2 101.9M216.3 190.3L224.7 105.1M216.1 187.6L221.9 97.3M216.4 190.8L220.2 101.9M216.6 184.8L203.9 94.8M216.5 190.9L221.4 104.1M216.3 188.6L213.8 102.2M216.4 187.4L214.9 102.5M216.9 190.9L207.7 108.2M216.6 187.0L225.4 97.7M216.9 188.3L234.1 104.4M216.3 188.9L220.1 102.0M216.4 189.6L217.9 112.5M216.3 187.9L213.1 102.2M216.9 185.4L225.3 103.7M216.5 189.5L205.1 108.5M216.8 190.6L202.4 97.7M216.7 191.7L225.2 107.3M216.2 191.8L194.5 103.0M217.1 189.6L214.6 104.6M217.3 188.9L205.1 104.0M217.3 191.1L231.2 105.4M217.9 185.3L197.3 105.0M217.9 189.8L235.9 107.8M217.0 189.4L207.5 98.0M217.1 190.6L217.4 108.2M217.3 188.7L216.3 112.5M217.2 188.6L220.0 107.2M217.5 190.5L216.6 103.4M218.6 188.0L222.4 102.8M218.2 190.1L235.6 106.2M218.7 188.2L215.2 100.3M218.7 191.3L223.0 101.7M218.6 188.5L214.4 108.7M218.5 190.5L210.1 103.2M219.0 189.1L205.4 103.8M218.9 189.8L205.4 105.7M219.0 188.5L212.3 104.1M218.4 189.2L205.2 110.5M218.5 189.2L220.5 108.8M218.9 186.8L229.7 108.0M218.7 191.1L202.8 107.1M219.0 188.3L213.2 111.6M219.0 183.2L217.7 97.4M219.3 185.9L206.2 100.4M219.3 183.2L225.0 102.4M219.2 189.1L218.4 105.2M219.6 188.6L218.3 106.7M219.4 188.4L240.9 110.2M219.1 189.1L196.3 99.7M219.1 191.0L230.0 106.8M219.8 185.9L220.7 112.2M220.2 191.2L188.3 95.1M220.4 189.8L222.2 104.6M220.7 189.7L226.3 103.3M220.6 189.9L231.5 102.1M220.5 191.5L207.3 106.4M220.2 189.6L216.7 103.1M220.7 189.0L221.5 107.4M220.1 187.8L211.4 100.7M220.4 189.8L217.7 105.4M220.0 187.0L226.6 107.6M220.2 183.2L227.6 106.4M220.0 190.4L228.5 104.8M220.3 188.5L219.7 108.3M220.3 187.5L221.5 102.9M220.9 186.3L215.4 106.5M220.1 187.3L211.7 103.9M220.9 187.1L227.7 100.3M221.5 191.0L233.8 98.0M221.8 188.4L227.7 104.1M222.0 186.2L230.1 106.5M221.0 189.9L217.2 96.8M221.8 186.4L209.5 104.2M221.9 190.9L206.7 113.6M221.9 183.3L209.0 101.7M221.4 191.0L232.0 107.4M221.9 188.9L232.6 101.6M221.9 188.4L230.7 105.3M221.4 188.9L229.9 108.2M221.3 191.4L220.0 104.8M221.9 186.2L231.9 102.1M221.3 189.3L216.3 105.1M221.0 190.9L210.0 105.0M221.5 189.9L216.4 100.3M221.5 186.8L223.1 100.1M221.8 188.2L204.1 100.6M222.0 190.3L212.2 106.2M222.4 187.7L236.7 107.8M222.3 191.9L221.5 100.4M222.4 190.4L207.7 106.5M222.5 191.3L218.4 104.5M222.8 190.0L217.1 94.8M222.9 187.9L219.9 104.1M222.9 191.7L232.8 107.7M222.7 191.7L224.3 104.4M222.3 191.3L230.0 102.3M222.9 191.0L208.0 105.3M222.8 190.3L237.5 100.4M223.5 187.8L206.0 104.2M223.5 190.2L225.4 99.4M223.0 191.2L231.5 109.0M223.3 187.1L219.0 113.2M223.8 186.3L234.3 101.8M223.5 188.9L224.6 105.9M223.9 191.8L221.8 100.1M223.8 192.4L216.9 110.1M223.8 191.4L219.3 107.9M223.7 191.3L226.0 115.3M223.8 191.1L228.3 104.6M223.5 191.9L234.1 104.5M224.0 188.4L216.0 104.4M223.2 190.4L224.9 103.9M223.8 190.1L216.4 106.5M223.8 191.8L231.7 106.3M223.5 192.3L206.8 96.1M223.6 189.8L231.8 100.6M224.6 192.6L233.1 105.7M225.0 193.2L223.0 104.0M224.2 192.6L225.2 104.0M224.9 191.2L218.9 107.8M224.6 187.4L218.2 105.1M224.8 187.6L227.7 99.0M224.2 191.5L220.5 97.7M224.9 189.2L226.8 103.5M224.1 190.1L226.2 102.1M224.2 187.4L223.3 105.2M224.6 188.9L217.8 107.7M225.3 190.8L224.4 100.0M225.4 188.3L226.9 104.4M225.2 191.3L216.6 100.4M225.8 190.5L219.4 109.9M225.3 189.3L224.2 105.9M225.4 189.3L231.1 106.9M225.3 193.3L228.4 110.2M226.9 188.8L238.2 101.8M226.7 189.0L236.5 102.8M226.5 189.1L229.0 113.0M226.7 192.1L244.3 108.7M226.2 191.4L225.2 104.6M226.0 189.8L227.4 100.2M226.1 188.9L236.0 104.4M226.3 185.7L239.5 102.6M226.2 187.8L209.2 109.1M226.7 189.9L222.1 101.3M226.0 191.9L233.2 105.8M226.7 193.3L222.2 109.9M226.1 185.1L227.7 101.7M226.1 191.6L223.9 108.4M227.2 191.1L243.3 99.7M227.2 192.4L216.0 104.1M227.4 191.2L237.6 101.6M227.3 185.9L226.5 104.1M228.1 192.0L224.2 94.8M228.3 189.5L228.0 103.9M228.9 190.1L240.8 106.7M228.6 191.5L215.1 104.3M228.5 188.8L221.3 111.8M229.0 189.7L238.0 106.2M228.5 188.7L218.8 99.7M228.1 192.1L221.3 110.5M228.9 190.3L237.6 104.3M228.2 192.5L220.4 103.7M228.2 192.1L220.8 106.3M228.6 191.0L225.0 110.9M228.7 184.7L229.0 99.4M229.4 192.0L233.8 111.3M230.0 191.1L223.7 111.4M229.3 191.0L227.9 101.8M229.9 188.3L210.6 110.7M229.3 183.4L237.4 105.2M229.1 184.7L214.1 107.3M229.5 187.7L225.3 103.0M229.9 189.4L232.7 101.1M229.9 188.1L237.1 99.6M229.3 188.6L229.2 111.5M229.3 189.0L226.5 100.4M230.0 183.9L238.9 102.9M229.9 190.8L223.1 101.2M229.9 189.2L231.6 104.4M229.5 191.5L233.8 97.7M230.9 191.3L225.6 99.0M230.5 191.5L234.6 99.7M230.8 191.0L231.5 107.4M230.6 186.0L233.6 101.5M230.5 192.3L235.9 109.2M230.5 186.5L232.3 103.3M230.6 189.4L239.5 102.6M230.3 192.6L224.0 106.0M230.8 189.1L214.3 100.4M230.7 191.5L247.7 106.7M230.1 190.3L236.8 99.7M230.5 186.9L220.6 106.6M230.0 187.2L226.1 106.6M231.6 192.1L244.9 109.3M231.4 186.7L249.6 101.1M231.6 188.5L251.3 99.3M231.1 190.7L233.1 103.6M232.0 189.0L236.2 105.6M231.1 187.3L224.6 109.2M231.6 190.3L235.8 109.2M231.4 192.9L245.0 111.7M231.0 189.5L219.8 103.5M233.0 188.6L233.7 102.5M232.4 189.8L232.5 108.6M232.7 190.9L224.1 104.8M232.2 187.8L217.1 108.5M232.5 190.5L224.8 111.7M232.8 189.6L232.5 108.3M232.3 182.0L233.0 105.4M232.6 191.2L241.4 101.8M232.0 183.5L232.4 101.6M232.9 190.4L231.6 97.6M232.2 192.3L229.0 98.6M233.6 192.9L224.3 105.4M233.6 188.6L220.8 104.2M233.7 185.3L232.5 101.4M233.5 191.9L233.2 105.6M233.7 190.9L242.6 107.1M233.3 191.2L236.6 99.5M234.0 183.4L228.0 108.6M233.1 190.2L219.2 101.9M233.6 188.5L247.3 101.4M233.3 192.1L242.7 104.8M233.4 192.3L226.0 95.9M233.7 190.5L226.9 99.1M234.9 183.2L236.4 104.4M234.7 187.0L230.2 100.7M234.6 187.6L238.7 103.0M234.1 192.2L241.6 107.0M234.6 188.6L229.8 110.2M234.2 186.7L230.8 103.4M234.9 187.8L235.8 100.9M234.7 186.5L240.3 105.7M234.5 190.2L226.1 113.4M234.8 190.2L240.1 107.3M234.8 185.3L222.8 101.0M234.0 192.3L228.0 103.1M235.0 185.5L245.4 111.1M234.8 190.4L222.2 102.7M235.0 189.3L238.4 102.8M234.9 192.0L237.1 104.9M235.5 187.9L252.1 105.3M235.3 184.5L238.1 108.3M235.3 190.4L231.0 99.7M235.2 191.7L228.0 101.1M235.8 186.1L219.8 110.9M235.7 190.9L237.8 101.2M235.1 188.3L228.1 108.6M235.9 191.4L230.0 108.5M235.7 191.1L241.4 106.0M236.0 190.0L243.6 100.5M235.6 191.5L228.9 101.3M236.0 190.4L236.7 108.8M236.5 187.9L241.8 106.3M236.1 190.0L226.1 109.8M236.5 181.9L241.5 104.2M236.8 189.5L241.0 101.3M236.6 189.1L231.5 103.4M236.9 186.4L242.9 94.4M236.3 192.0L239.7 101.9M236.8 185.8L239.8 99.0M236.6 181.9L238.1 97.7M237.1 192.0L253.5 105.8M237.1 184.0L230.8 106.9M237.9 188.3L242.2 103.1M237.5 186.4L232.5 100.1M237.3 187.9L249.1 106.3M237.6 192.5L243.2 101.3M237.1 190.0L239.4 107.3M237.7 191.1L239.1 104.9M237.2 192.2L237.2 111.2M237.8 192.0L237.1 107.3M239.0 187.1L239.5 104.0M238.1 192.9L232.5 103.1M238.8 183.9L243.1 97.6M238.9 191.4L243.3 104.3M238.2 184.9L230.4 104.5M238.0 187.7L244.8 106.8M239.0 189.8L232.8 104.2M238.1 181.4L234.4 105.4M238.3 188.6L241.2 99.7M238.6 192.1L234.3 110.0M238.8 184.8L240.1 102.3M238.2 181.0L234.3 100.4M238.1 191.6L242.9 107.8M238.5 192.2L239.4 102.9M238.2 190.0L246.0 107.2M238.9 187.9L251.5 109.5M238.6 189.8L222.5 102.4M239.2 187.1L235.2 102.1M239.3 190.0L238.7 113.9M239.9 192.1L238.0 103.4M239.2 190.1L240.3 108.0M239.6 189.0L237.6 97.0M239.2 186.0L235.9 102.6M239.6 188.4L233.3 102.3M239.7 187.4L251.1 104.2M240.0 192.4L248.0 108.9M239.9 180.5L240.8 108.4M239.6 183.8L242.9 102.2M239.4 189.5L244.9 99.4M239.9 192.5L263.9 104.9M239.7 192.0L239.4 105.4M239.9 191.9L217.2 101.7M240.0 190.5L253.5 104.8M239.3 190.0L242.9 100.7M239.0 190.1L234.7 106.2M240.2 192.2L238.8 100.2M240.4 191.1L242.4 103.3M240.6 192.2L236.4 111.1M240.2 189.1L254.7 99.3M240.6 190.3L230.5 98.6M240.7 184.6L235.0 97.6M240.4 182.7L238.9 107.4M240.4 192.4L241.2 102.1M240.9 190.0L245.8 105.3M241.7 188.5L239.7 111.4M241.2 191.6L256.6 101.6M241.3 188.4L238.3 105.4M241.3 190.8L243.3 106.5M241.5 186.7L239.1 105.4M241.2 189.3L230.2 107.4M241.1 191.6L255.8 95.2M241.4 189.4L255.7 104.4M242.0 186.1L228.9 104.8M241.0 192.6L243.9 107.3M241.8 185.3L247.5 99.4M242.1 188.1L248.9 101.7M242.3 185.8L237.8 101.1M242.8 187.7L239.4 99.0M242.6 188.0L227.8 110.1M242.2 189.2L241.0 100.6M242.4 192.0L251.1 106.1M242.5 186.7L238.2 107.8M242.6 187.1L220.4 104.8M242.2 189.4L253.3 102.9M242.4 189.6L239.4 99.9M242.2 188.3L238.1 105.2M242.8 191.6L227.2 93.0M242.1 189.6L251.7 105.7M242.7 190.7L245.2 104.9M243.0 186.9L248.7 100.5M242.2 186.9L242.2 105.3M242.4 183.8L241.6 111.5M243.9 184.8L246.2 102.0M244.0 189.5L246.5 109.5M243.1 190.0L244.2 103.3M243.2 185.3L250.4 102.3M243.2 190.8L228.1 108.3M243.1 187.3L247.2 95.6M243.3 191.0L240.6 106.1M244.0 187.3L232.2 105.2M243.8 184.8L250.0 108.9M243.1 187.8L243.9 107.3M244.0 190.3L255.1 100.8M243.3 187.2L238.3 104.7M243.3 190.6L245.9 105.9M243.1 189.6L239.7 102.4M245.0 186.6L239.6 102.8M244.2 188.2L237.0 96.9M244.3 187.4L241.0 107.9M244.1 187.5L235.1 110.2M244.8 189.1L234.9 109.1M244.4 185.9L219.1 109.2M244.5 184.8L257.6 105.4M244.2 189.1L236.4 107.9M244.0 187.9L229.0 110.8M244.6 187.2L240.3 97.6M245.5 181.2L243.5 96.5M245.2 189.8L241.4 102.1M245.7 187.5L244.2 106.2M245.2 186.8L228.9 102.3M245.6 188.0L229.7 107.6M245.8 189.4L240.9 110.9M245.8 183.2L255.7 95.6M245.9 182.7L241.9 103.7M245.3 181.4L233.4 110.6M245.0 188.6L247.8 93.9M245.5 188.1L240.4 102.4M245.4 183.3L242.3 112.6M246.0 190.0L242.1 99.1M245.1 187.0L245.1 94.8M245.5 183.0L240.6 100.3M245.8 189.9L244.8 94.5M246.2 182.3L243.7 107.5M246.9 185.4L255.1 105.0M246.4 189.0L233.5 102.7M246.2 182.6L236.9 104.7M246.3 182.4L235.6 113.6M246.4 184.0L239.9 107.2M246.7 184.3L258.2 96.4M246.8 189.1L242.5 104.3M246.2 179.5L236.8 96.4M246.8 182.4L247.0 102.0M247.4 184.8L240.5 111.9M247.4 187.5L240.5 103.7M247.8 184.9L235.2 102.6M247.5 187.1L254.6 106.5M247.2 186.4L249.0 98.2M247.8 185.2L253.2 96.1M247.7 187.7L249.4 99.6M247.8 188.4L245.0 108.3M247.8 186.3L246.4 112.6M247.8 181.8L239.5 100.2M247.6 188.0L242.8 105.1M247.2 184.9L250.5 108.3M248.0 184.5L235.7 100.3M247.2 186.9L237.9 109.4M247.7 188.4L246.5 102.6M247.3 182.5L250.5 95.2M247.2 185.8L247.1 109.5M247.5 180.8L250.8 100.5M248.2 185.7L247.5 110.2M248.1 185.7L245.5 111.9M248.3 182.6L243.4 103.2M248.3 186.3L251.0 106.6M248.6 184.5L242.7 100.8M248.1 180.8L243.6 108.3M248.5 187.3L251.0 100.3M248.9 184.9L234.8 102.7M248.9 183.1L235.3 104.1M248.2 185.3L255.5 105.9M248.8 183.0L246.0 101.0M248.6 185.8L253.7 106.4M248.7 187.2L251.7 103.9M249.5 184.4L245.1 109.2M249.3 179.7L246.4 102.8M249.5 185.7L253.5 103.2M249.9 183.0L260.9 105.1M249.1 181.8L251.0 96.2M249.4 185.1L259.3 112.5M249.5 181.0L249.8 96.5M249.6 182.7L251.8 107.3M249.1 182.8L240.9 103.8M249.6 184.0L260.0 98.9M249.5 179.2L260.4 104.1M249.6 185.9L258.1 97.3M249.1 181.1L253.5 107.9M249.1 181.1L243.4 98.7M249.3 185.6L252.7 107.2M249.7 177.0L239.5 105.4M249.9 184.0L245.5 103.3M249.6 184.8L235.2 98.3M249.2 181.8L243.8 107.6M250.4 182.0L243.3 102.9M250.5 185.6L251.1 104.5M250.5 185.1L256.1 106.2M250.7 185.4L245.7 98.3M250.5 184.8L247.0 103.9M250.8 182.9L231.1 107.3M250.1 184.9L242.6 101.5M250.9 183.9L238.7 100.8M250.5 184.7L249.6 104.5M250.4 185.9L249.8 98.6M250.4 182.4L239.8 105.9M250.5 178.4L243.6 99.2M250.3 178.9L233.9 99.6M250.2 180.4L250.7 110.3M250.3 178.8L262.4 100.7M250.6 183.7L260.0 101.4M251.3 180.7L238.9 99.6M251.3 185.6L272.8 94.3M251.6 185.2L247.9 99.3M251.0 182.6L261.4 104.1M251.8 183.3L245.0 98.8M252.0 182.7L256.2 94.4M251.1 184.9L237.4 103.9M251.2 181.8L273.9 101.9M251.2 182.8L232.3 111.0M252.5 183.0L241.7 103.5M252.4 180.1L244.6 105.8M252.0 181.5L252.2 99.5M252.9 181.1L249.4 101.2M253.0 185.0L254.0 101.1M252.5 182.6L256.2 98.8M252.0 181.7L263.3 96.6M252.7 183.9L236.7 97.7M252.7 180.9L255.2 99.8M252.5 183.7L250.1 110.2M252.7 184.3L246.3 100.1M252.5 180.6L258.8 101.7M252.7 176.5L254.6 101.3M252.3 180.4L266.9 99.0M252.6 179.9L239.8 99.8M253.4 181.5L245.3 100.9M253.7 184.3L251.5 99.0M253.4 185.1L263.7 104.0M253.7 179.5L240.9 100.9M253.9 179.6L262.5 96.8M253.7 181.6L256.1 101.6" stroke="#606060" stroke-opacity="0.075" stroke-width="0.5" fill="none"/><path d="M78.0 159.2L69.4 93.3M78.6 160.4L85.8 89.4M78.3 159.7L66.5 94.0M79.5 159.0L80.0 95.3M79.4 159.1L90.4 85.6M79.8 159.9L83.8 89.7M80.3 158.0L68.1 94.7M80.6 160.2L82.5 83.3M82.4 158.8L76.6 97.1M82.7 156.5L83.9 94.0M82.1 159.3L78.6 89.1M82.1 159.8L94.5 84.4M84.0 159.8L74.7 91.6M84.6 156.5L88.5 82.9M84.8 158.8L70.1 93.6M84.2 158.5L85.5 82.6M84.4 159.9L94.9 88.3M84.0 159.2L74.9 96.8M84.7 158.8L74.5 94.7M85.1 158.5L83.5 82.6M85.3 160.1L89.8 91.7M85.1 160.8L79.4 89.5M86.4 161.5L95.9 90.2M86.4 160.1L78.3 89.2M87.0 161.7L99.6 87.0M87.3 158.1L85.7 89.5M87.1 155.0L94.8 83.2M87.8 157.5L83.3 85.8M87.2 161.9L89.9 90.7M87.9 158.5L81.6 89.1M88.7 162.0L90.9 85.2M89.9 162.7L77.7 95.6M90.6 162.2L77.4 90.1M90.2 158.5L91.2 81.9M90.2 161.9L98.2 86.1M90.0 155.0L77.2 93.0M91.7 160.8L79.9 95.8M91.7 156.1L95.0 80.6M92.6 160.7L89.4 87.4M92.8 160.1L74.8 98.1M92.3 159.2L89.8 88.0M93.0 158.3L85.8 91.9M93.1 157.4L86.7 94.0M93.3 154.1L82.7 87.4M94.9 159.5L89.6 95.6M94.7 153.2L93.0 83.2M95.5 159.6L93.6 86.4M95.9 159.2L102.9 84.8M95.7 161.2L100.0 82.4M95.3 161.5L81.0 92.1M96.5 161.3L87.5 88.2M96.7 150.0L88.4 94.5M96.8 156.8L97.6 89.9M96.7 152.9L86.6 88.9M96.5 156.9L90.3 88.8M96.5 161.4L100.1 87.1M97.1 161.6L89.2 97.1M97.6 154.8L105.6 82.9M97.8 157.2L90.3 90.8M99.0 161.5L96.6 84.0M98.7 160.9L94.1 87.1M98.7 154.6L76.5 89.4M98.6 161.2L110.2 83.5M98.6 159.6L113.3 84.0M98.1 151.9L85.5 88.0M99.7 153.3L106.5 87.1M99.5 151.0L106.0 85.2M100.4 160.3L86.3 89.8M100.6 156.6L108.6 84.5M100.7 157.2L96.1 83.9M100.8 157.2L107.9 90.7M101.9 158.1L96.3 92.7M102.0 155.1L102.8 96.3M102.3 154.8L94.0 93.4M102.5 161.9L95.8 80.4M102.5 155.4L115.2 82.3M102.7 158.2L91.9 92.6M102.4 157.9L90.2 93.8M103.3 161.6L99.3 84.7M103.1 160.8L96.2 99.1M103.0 158.6L99.4 83.6M103.1 159.6L106.0 83.3M103.6 158.1L99.1 85.8M103.9 161.5L89.0 88.8M103.6 160.5L110.4 81.1M104.4 155.0L116.0 84.8M104.7 160.9L84.3 92.6M104.5 160.6L117.1 89.1M104.1 160.1L117.8 87.2M104.1 156.9L111.0 85.4M104.8 161.2L103.5 84.6M105.3 158.2L118.5 86.2M105.6 161.4L98.6 90.6M105.3 157.9L99.0 83.2M105.2 157.0L112.1 86.5M105.5 157.4L103.7 80.7M106.5 160.9L100.9 87.4M106.3 158.3L103.9 87.4M106.1 158.1L116.9 89.0M107.5 157.8L106.3 82.2M107.2 159.0L109.4 84.1M107.1 157.3L100.6 88.8M108.5 159.7L124.3 84.1M108.3 157.4L114.3 83.6M109.0 159.3L114.9 82.2M108.7 158.3L97.7 86.3M110.0 156.9L117.9 81.4M109.4 157.4L93.6 85.7M109.7 163.5L114.5 87.7M109.7 156.3L111.5 86.7M110.0 163.6L115.7 90.4M109.6 162.0L122.4 87.7M109.3 163.5L100.0 82.1M110.8 163.6L105.4 93.9M110.4 164.8L110.0 87.9M111.0 156.9L107.0 88.3M112.9 160.0L106.3 86.7M112.5 163.6L102.3 85.4M112.3 162.5L120.7 81.3M112.8 162.1L117.7 86.6M113.7 162.6L114.5 89.1M113.7 164.9L113.4 84.7M113.4 162.5L125.6 84.7M113.8 164.6L93.3 89.3M114.1 159.0L121.7 83.0M114.3 163.9L128.0 79.9M114.9 160.3L100.9 91.9M114.4 165.3L112.3 81.3M115.6 156.1L113.2 82.5M115.5 164.2L112.2 89.8M115.8 161.3L107.2 88.3M115.1 164.2L123.8 81.7M115.5 158.4L111.3 84.5M116.5 163.5L121.3 82.8M116.3 163.7L131.9 81.1M117.2 157.7L131.2 82.4M117.0 155.5L123.1 80.4M118.6 162.8L117.6 83.5M118.1 159.5L104.4 84.5M118.6 166.2L115.6 77.0M118.3 162.0L118.7 87.2M119.9 163.3L116.8 81.1M119.7 161.6L127.9 79.5M119.3 159.9L126.4 79.1M119.7 158.6L111.1 82.5M121.0 161.8L108.8 88.9M120.9 165.8L129.1 76.0M121.5 160.4L133.8 79.2M121.7 163.2L104.4 82.6M121.6 162.0L130.1 84.4M122.7 164.5L126.8 80.8M122.4 164.5L137.8 76.9M122.3 169.8L122.2 85.7M123.6 169.2L120.0 92.4M123.4 168.4L124.3 87.9M123.4 169.5L129.6 84.0M123.5 165.2L114.4 80.5M123.4 169.9L122.6 88.4M123.6 163.7L110.2 81.3M124.9 166.1L126.7 83.2M124.9 155.5L140.8 81.6M124.9 170.3L134.8 79.8M124.5 161.8L136.0 80.9M125.8 170.0L113.4 87.4M125.1 162.8L120.2 84.0M126.2 166.4L139.7 83.0M126.2 170.9L121.8 79.6M126.9 170.2L136.3 83.8M126.5 170.4L132.5 78.1M126.2 164.4L128.9 75.9M127.2 165.0L124.3 85.2M127.2 164.5L118.0 89.9M127.4 168.8L135.6 93.6M127.4 169.9L140.0 82.8M127.4 168.2L139.2 86.7M127.6 168.7L130.2 87.5M128.3 169.2L122.0 82.5M128.2 165.1L135.5 79.1M128.7 170.4L134.9 87.9M128.2 163.4L123.9 85.2M129.6 164.0L136.1 81.7M129.9 171.0L122.0 89.1M129.5 170.3L117.4 81.7M129.7 169.7L136.6 82.3M129.7 168.5L132.1 80.7M130.0 168.9L128.3 88.5M130.3 165.0L135.6 78.1M130.6 165.6L124.8 78.0M131.7 157.0L146.0 87.6M131.3 161.2L148.5 83.7M131.6 166.3L122.5 82.6M132.6 169.2L132.2 85.2M132.7 171.7L115.3 87.0M132.7 161.3L139.7 87.4M132.3 165.0L136.3 84.3M132.8 167.4L135.2 86.8M132.1 170.7L130.8 85.1M133.7 166.8L139.4 82.4M133.3 167.7L138.1 80.0M133.7 168.2L133.3 82.9M133.6 171.8L126.5 83.7M134.7 167.0L134.2 78.6M134.1 160.6L116.0 83.3M134.6 169.6L129.4 77.6M134.9 168.8L149.7 86.3M135.1 170.8L134.4 78.6M135.2 169.7L124.2 81.6M135.8 159.5L153.1 86.6M136.5 175.4L132.4 86.9M136.1 163.6L143.8 85.4M136.7 167.0L141.3 85.0M136.1 168.2L142.9 86.0M136.4 173.7L136.4 79.0M136.1 176.4L139.6 77.4M136.9 177.2L127.0 84.1M137.0 173.1L156.6 83.6M137.8 163.9L145.5 88.3M138.9 167.9L130.9 84.3M138.4 166.7L130.8 80.6M138.4 169.8L134.8 81.7M139.4 177.9L139.7 80.8M139.7 176.4L139.2 85.6M139.4 166.7L159.0 96.2M139.2 168.1L128.6 80.4M141.0 174.4L142.1 82.0M140.5 168.0L148.5 79.7M140.9 175.6L124.9 88.3M140.4 165.1L130.6 82.2M140.5 177.7L147.3 86.8M141.9 179.1L148.4 76.0M141.9 172.4L123.2 82.3M141.7 176.7L148.9 79.1M141.0 165.9L134.5 75.4M142.2 172.7L149.0 82.2M142.5 165.1L139.2 81.1M142.9 177.6L154.5 91.7M142.5 168.8L154.0 90.5M142.6 177.8L138.1 75.2M143.0 173.5L158.2 91.3M143.6 173.0L130.8 83.6M143.3 177.7L154.2 91.5M143.8 170.6L139.6 82.5M143.4 179.0L141.7 84.1M143.4 175.8L146.1 82.7M143.4 175.7L150.8 90.1M144.2 164.5L144.3 84.1M144.2 166.9L142.9 82.1M144.8 176.6L135.8 79.2M144.5 171.6L140.7 89.3M144.1 173.1L145.2 87.4M145.8 178.6L134.2 80.9M145.3 174.4L149.9 87.8M146.0 178.2L149.8 88.6M146.3 175.9L161.0 99.2M146.4 179.6L141.3 83.4M146.6 177.5L137.3 85.3M147.2 178.1L161.8 93.6M147.5 175.0L163.5 101.4M147.1 174.6L149.9 86.7M147.2 179.1L144.3 82.8M148.4 174.4L147.2 88.6M148.3 173.4L135.4 82.7M148.5 174.7L142.5 80.7M148.2 179.9L142.3 75.6M149.5 175.0L149.2 87.2M149.1 180.1L140.9 78.9M149.6 177.1L164.5 94.0M149.7 168.7L153.5 82.8M149.3 179.6L139.3 78.0M151.9 179.3L161.9 88.0M151.3 177.3L147.2 88.5M151.2 178.6L149.8 89.8M151.0 172.6L134.9 78.8M151.9 175.4L162.2 99.6M151.6 181.2L152.7 87.3M152.5 181.2L150.3 85.0M152.7 173.1L160.1 93.7M152.5 179.8L146.6 83.0M152.4 179.6L155.0 87.8M152.7 175.5L147.3 88.6M153.4 177.7L153.7 82.1M153.0 170.5L145.5 82.2M154.0 179.6L148.8 85.5M154.3 168.8L152.4 87.6M154.4 173.1L142.3 82.3M154.5 178.3L151.8 98.2M154.0 179.5L149.3 86.0M154.2 175.5L159.2 92.9M154.5 172.0L154.8 93.7M155.9 174.5L152.8 88.2M155.2 177.7L167.8 95.1M156.1 179.4L157.9 89.8M156.6 180.7L145.6 83.0M156.2 181.6L163.1 92.9M156.9 177.2L170.1 95.8M156.1 181.5L172.7 100.1M156.1 176.0L150.0 81.7M157.8 176.4L154.9 84.6M157.1 176.2L153.2 84.8M158.0 174.8L165.4 91.8M157.4 179.7L145.9 89.6M157.3 173.6L156.5 96.5M158.5 182.8L156.3 89.7M158.7 175.4L165.1 96.6M158.9 179.3L150.3 86.9M158.4 182.9L154.7 82.9M158.3 181.6L164.5 91.9M158.3 176.3L151.7 84.7M158.8 178.9L151.6 82.3M158.3 182.6L169.0 96.6M159.0 181.9L158.2 78.8M159.4 181.4L145.6 83.5M159.1 184.0L147.1 88.9M159.6 182.6L153.5 92.6M159.0 180.6L161.3 94.5M159.8 182.2L155.4 83.5M160.4 182.1L154.7 89.4M160.6 176.6L153.3 90.7M160.4 179.0L158.4 88.2M160.2 184.4L151.9 89.7M161.5 183.7L154.4 88.4M162.0 184.8L165.2 93.9M162.8 180.5L177.4 97.7M162.8 184.5L167.6 93.7M162.6 182.9L166.1 97.1M162.0 184.9L140.2 88.9M162.6 185.0L154.7 91.4M162.4 182.9L174.2 101.8M163.4 181.4L158.4 83.1M163.8 187.1L156.5 88.7M163.2 183.6L163.2 89.1M163.8 178.7L161.5 90.5M163.6 181.4L166.4 100.8M163.4 183.7L171.1 107.2M163.5 180.9L152.4 84.4M163.7 175.7L159.1 96.1M163.5 181.9L169.1 91.2M163.5 181.1L163.2 96.6M163.0 185.2L163.3 98.4M163.2 186.1L169.4 100.4M164.8 183.9L154.8 90.9M164.6 185.5L158.5 86.7M164.1 181.2L163.5 93.8M165.0 181.5L162.9 91.8M164.9 183.6L186.5 95.5M165.0 185.3L171.0 95.7M164.4 181.9L162.1 89.0M165.1 187.1L166.8 90.6M165.9 180.7L169.1 108.7M165.7 178.6L153.6 86.6M165.7 187.1L161.0 97.1M165.6 185.5L176.9 94.8M165.9 186.5L169.9 91.8M165.9 183.7L180.3 101.0M165.6 186.4L153.5 89.7M166.0 180.0L163.4 98.8M166.5 184.4L168.3 87.9M166.3 183.8L152.4 93.4M167.7 186.8L174.6 98.5M167.2 187.5L158.4 92.9M167.3 182.3L169.8 96.9M167.9 188.7L155.9 88.3M167.8 184.6L167.5 95.3M167.7 184.1L183.7 96.9M167.5 186.3L179.4 98.4M167.5 188.1L165.9 87.7M167.1 189.0L171.8 94.3M254.7 184.9L264.3 99.6M254.5 178.9L238.4 103.2M254.2 185.1L253.3 109.3M254.2 184.0L256.6 98.4M254.5 182.6L244.2 107.5M255.0 184.6L269.2 106.3M255.9 183.2L245.5 103.4M255.3 183.0L260.5 101.9M255.4 184.1L252.2 104.1M255.1 180.5L259.7 101.9M255.0 181.7L263.7 104.9M255.9 176.8L261.4 100.7M256.8 183.2L258.9 103.3M256.1 183.5L253.5 100.3M257.3 181.0L247.0 105.6M257.1 182.2L256.3 102.4M257.4 183.4L268.3 100.7M257.1 183.2L253.9 97.8M258.4 181.0L251.6 105.3M258.5 177.3L251.0 99.4M258.4 175.9L258.3 98.0M258.8 179.3L255.8 107.0M259.3 178.8L255.6 102.9M259.4 180.9L248.9 103.6M259.1 177.7L262.6 105.7M260.6 173.8L268.1 103.4M260.5 174.1L274.4 104.8M260.7 176.1L254.5 96.6M260.4 174.1L263.1 94.6M260.8 175.0L265.4 104.5M260.9 174.9L266.9 100.6M260.1 175.7L277.5 99.7M261.2 174.9L260.5 100.1M261.8 175.6L257.1 99.4M262.2 173.5L275.6 99.2M262.2 174.8L278.6 108.4M262.1 175.6L259.0 100.8M262.1 174.4L286.6 89.5M262.7 174.4L254.8 96.8M262.6 174.7L246.9 98.5M263.0 175.7L258.9 109.5M263.5 176.4L268.8 98.6M263.2 176.5L263.3 95.8M263.7 176.6L272.6 99.1M263.7 173.8L278.5 99.7M263.6 174.8L263.7 105.2M264.5 177.2L261.7 100.7M265.5 180.2L284.5 105.4M266.3 178.2L251.8 107.9M266.5 179.2L254.3 109.1M266.8 179.0L271.8 102.0M266.9 177.8L265.0 106.5M267.8 178.8L279.4 111.0M267.8 179.0L256.1 95.2M268.5 176.1L261.4 91.7M268.2 179.2L274.6 101.7M268.4 177.3L266.0 99.6M268.6 175.5L261.1 103.8M269.4 178.0L263.9 100.6M269.3 180.4L276.3 98.6M270.0 181.1L276.1 103.6M269.3 178.8L259.1 97.9M269.4 181.6L264.7 103.9M269.0 178.5L262.5 101.0M269.6 180.4L279.4 102.6M269.7 181.7L278.3 98.5M270.7 174.9L271.4 94.3M270.6 181.5L290.6 100.5M271.2 182.2L272.3 104.9M271.8 177.3L287.2 96.6M272.5 183.2L271.9 101.1M272.7 183.4L275.6 97.7M272.8 183.7L277.3 107.3M272.1 183.8L267.4 103.5M272.4 183.6L272.2 101.4M273.0 180.9L274.2 99.5M273.1 183.2L282.0 99.6M274.6 187.3L286.2 107.1M274.3 190.1L273.9 101.6M274.6 181.7L273.5 109.4M274.0 190.8L255.8 103.5M274.3 190.4L279.9 98.0M274.9 183.8L274.9 93.7M274.2 190.4L261.0 96.9M275.3 189.9L277.5 100.4M275.2 188.4L277.0 102.0M275.3 186.8L269.1 104.3M275.7 190.9L291.7 97.2M275.3 188.3L285.3 97.8M276.7 184.6L275.9 103.6M276.1 190.2L281.6 93.3M276.4 189.9L275.7 97.7M277.6 186.9L278.3 101.9M278.7 189.7L268.5 105.3M279.4 187.2L283.4 106.4M279.1 186.4L275.6 103.8M279.6 190.0L287.4 101.6M280.1 188.7L283.6 101.5M282.0 190.4L272.9 105.2M281.2 187.8L287.5 93.4M281.4 184.8L293.2 109.8M282.9 188.7L275.4 103.5M282.4 186.5L285.9 99.5M282.2 188.7L283.5 99.0M282.2 182.5L282.6 102.1M284.0 190.9L280.2 103.9M283.1 187.8L293.4 102.3M283.3 181.2L293.4 107.2M283.1 185.8L273.7 92.8M284.5 186.9L290.5 103.8M284.1 185.3L281.2 96.9M284.7 186.6L287.5 102.2M285.4 182.1L278.8 97.4M285.1 190.5L286.4 100.9M285.6 190.2L299.3 106.2M285.9 177.5L309.1 118.5M286.5 185.4L279.3 95.2M287.6 187.2L285.3 104.9M287.7 186.4L281.8 98.4M289.0 187.0L286.5 102.0M290.5 187.3L294.5 105.8M290.9 185.6L285.1 97.8M290.3 182.5L291.2 96.3M290.4 186.9L284.9 104.5M290.9 191.0L299.9 103.3M291.6 191.8L286.8 94.9M291.3 191.3L291.4 99.1M291.9 188.8L291.6 99.4M292.5 190.0L294.0 100.9M293.3 185.9L289.1 100.4M293.7 190.2L291.5 109.5M294.0 188.1L289.2 102.7M294.9 186.7L293.9 107.0M294.9 180.0L290.2 100.0M294.8 187.7L287.0 103.9M294.3 187.1L291.4 101.7M295.2 190.1L289.3 105.7M296.0 180.9L293.6 103.1M296.0 181.6L296.2 99.1M295.6 192.6L293.3 99.5M295.9 193.0L288.5 110.2M295.2 189.1L298.8 114.1M295.8 181.6L293.7 97.2M296.7 189.6L288.5 99.8M296.4 193.0L293.0 97.0M296.3 188.6L294.3 105.2M297.5 189.3L302.0 114.7M297.1 187.6L299.3 109.1M297.3 193.9L292.4 103.9M297.6 178.5L296.2 102.9M298.4 193.8L296.9 102.0M298.7 186.1L297.7 102.6M298.4 185.2L302.9 104.0M299.5 192.5L297.7 99.9M299.1 188.3L293.2 107.4M299.4 187.0L296.0 101.3M299.8 189.8L305.1 108.7M300.2 191.5L300.5 109.8M300.3 191.3L305.8 113.0M300.5 188.2L299.5 107.7M301.0 193.5L301.6 111.7M301.4 187.4L308.6 113.7M301.1 189.5L296.6 90.3M302.1 191.2L300.6 103.5M302.1 195.6L303.4 113.6M306.1 195.2L299.6 107.3" stroke="#606060" stroke-opacity="0.125" stroke-width="0.5" fill="none"/><path d="M232.1 107.7L197.9 58.0M243.5 111.6L204.5 54.8M250.6 111.5L209.3 51.4M249.3 107.7L211.2 52.3M247.8 101.4L214.5 53.0M251.3 99.2L218.7 51.8M258.6 107.2L221.6 53.3M237.5 101.4L207.0 57.0M165.4 104.8L149.5 81.7M178.5 117.1L153.0 80.0M173.1 103.1L159.0 82.7M186.1 110.9L162.8 77.0M189.6 108.9L167.0 76.0M201.4 111.8L174.2 72.3M202.4 105.9L178.0 70.4M210.5 114.6L180.8 71.3M216.8 115.9L185.5 70.4M209.2 101.3L189.3 72.3M216.3 108.0L193.1 74.2M194.0 114.0L170.0 79.0M210.6 116.2L183.0 76.0M146.5 181.0L150.5 202.5M159.5 183.0L157.5 200.5M164.5 188.0L166.0 197.5M162.0 186.0L160.0 196.0" stroke="#707070" stroke-opacity="0.28" stroke-width="0.5" fill="none"/><defs><pattern id="stip" width="3" height="3" patternUnits="userSpaceOnUse"><rect x="0.5" y="0.5" width="0.8" height="0.8" fill="#888"/><rect x="2" y="2" width="0.6" height="0.6" fill="#999"/></pattern></defs><path d="M111.4 153.2L118.1 153.4L122.2 155.0L129.7 157.0L138.8 157.9L143.6 160.6L147.9 164.1L152.7 166.9L157.6 169.6L156.7 171.8L161.4 173.2L165.0 173.3L169.2 173.1L179.3 173.8L183.9 172.9L189.5 175.0L183.1 175.1L180.1 175.6L185.4 178.1L191.9 181.1L203.2 182.1L210.1 183.6L215.6 183.4L221.2 183.3L227.8 182.8L231.1 180.3L235.3 180.8L239.0 179.1L247.4 179.6L248.0 181.7L250.2 181.8L248.5 183.3L253.6 183.9L255.4 183.1L255.2 181.8L257.3 184.6L254.6 185.3L249.4 186.4L247.7 188.5L244.7 190.6L241.1 192.9L235.3 193.5L230.5 193.1L225.0 193.9L222.9 192.1L218.6 191.6L213.5 193.3L209.6 194.7L205.4 194.8L197.6 194.9L192.7 197.9L186.8 197.2L183.1 197.1L177.3 195.3L181.6 194.2L185.9 194.7L184.2 192.8L180.4 193.2L178.5 193.4L177.9 191.2L175.7 191.1L169.3 191.8L167.6 190.9L172.1 189.4L168.1 188.5L163.8 187.9L160.0 184.3L156.4 181.9L160.4 182.8L160.3 179.9L154.6 179.4L152.5 182.3L146.6 179.8L141.0 179.4L136.2 179.0L136.4 176.2L137.8 173.9L143.1 174.1L147.3 174.0L145.1 172.2L143.1 169.4L139.5 167.7L135.4 166.2L131.2 163.9L125.8 160.7L122.3 159.7L118.3 158.7L116.3 156.6L113.3 154.7ZM112.1 160.7L115.9 162.0L121.5 162.5L125.8 163.1L128.6 165.3L132.1 166.4L135.1 168.2L137.1 171.0L134.0 172.5L129.1 171.5L126.6 171.2L122.9 170.5L124.0 168.5L120.4 166.8L114.3 166.5L111.3 167.0L109.6 165.1L111.2 164.0L113.4 162.4ZM97.0 149.1L101.3 150.2L104.5 151.7L108.8 152.2L111.4 153.2L109.8 155.3L111.9 157.1L112.1 158.4L108.3 159.4L107.7 161.2L103.1 162.1L96.2 162.3L89.5 162.8L86.1 162.3L85.4 161.2L78.4 160.7L81.0 159.4L79.3 159.1L78.0 157.5L80.4 156.5L85.1 156.3L86.8 154.8L94.7 155.4L97.6 154.2L96.3 152.6L92.9 152.2L89.2 151.5L92.6 149.6L96.0 150.0ZM248.2 177.3L254.2 176.4L256.5 174.1L260.2 173.1L267.1 174.6L271.5 174.1L273.2 176.6L275.2 178.8L280.6 178.0L289.7 177.2L295.1 175.8L300.9 175.2L304.5 175.3L304.0 177.7L301.8 182.3L300.7 186.6L301.8 191.0L305.6 194.0L313.0 195.4L305.3 196.1L305.3 196.1L304.1 195.8L304.5 196.6L299.5 195.0L293.1 192.7L287.3 190.9L279.3 191.4L274.4 192.0L274.3 189.1L273.2 185.3L272.0 182.6L265.9 180.6L266.0 178.9L264.4 177.0L259.3 176.4L258.7 178.2L259.7 181.9L257.4 181.2L256.9 179.7L253.2 179.0L248.9 177.8Z" fill="#ececec" fill-opacity="0.12"/><path d="M111.4 153.2L118.1 153.4L122.2 155.0L129.7 157.0L138.8 157.9L143.6 160.6L147.9 164.1L152.7 166.9L157.6 169.6L156.7 171.8L161.4 173.2L165.0 173.3L169.2 173.1L179.3 173.8L183.9 172.9L189.5 175.0L183.1 175.1L180.1 175.6L185.4 178.1L191.9 181.1L203.2 182.1L210.1 183.6L215.6 183.4L221.2 183.3L227.8 182.8L231.1 180.3L235.3 180.8L239.0 179.1L247.4 179.6L248.0 181.7L250.2 181.8L248.5 183.3L253.6 183.9L255.4 183.1L255.2 181.8L257.3 184.6L254.6 185.3L249.4 186.4L247.7 188.5L244.7 190.6L241.1 192.9L235.3 193.5L230.5 193.1L225.0 193.9L222.9 192.1L218.6 191.6L213.5 193.3L209.6 194.7L205.4 194.8L197.6 194.9L192.7 197.9L186.8 197.2L183.1 197.1L177.3 195.3L181.6 194.2L185.9 194.7L184.2 192.8L180.4 193.2L178.5 193.4L177.9 191.2L175.7 191.1L169.3 191.8L167.6 190.9L172.1 189.4L168.1 188.5L163.8 187.9L160.0 184.3L156.4 181.9L160.4 182.8L160.3 179.9L154.6 179.4L152.5 182.3L146.6 179.8L141.0 179.4L136.2 179.0L136.4 176.2L137.8 173.9L143.1 174.1L147.3 174.0L145.1 172.2L143.1 169.4L139.5 167.7L135.4 166.2L131.2 163.9L125.8 160.7L122.3 159.7L118.3 158.7L116.3 156.6L113.3 154.7ZM112.1 160.7L115.9 162.0L121.5 162.5L125.8 163.1L128.6 165.3L132.1 166.4L135.1 168.2L137.1 171.0L134.0 172.5L129.1 171.5L126.6 171.2L122.9 170.5L124.0 168.5L120.4 166.8L114.3 166.5L111.3 167.0L109.6 165.1L111.2 164.0L113.4 162.4ZM97.0 149.1L101.3 150.2L104.5 151.7L108.8 152.2L111.4 153.2L109.8 155.3L111.9 157.1L112.1 158.4L108.3 159.4L107.7 161.2L103.1 162.1L96.2 162.3L89.5 162.8L86.1 162.3L85.4 161.2L78.4 160.7L81.0 159.4L79.3 159.1L78.0 157.5L80.4 156.5L85.1 156.3L86.8 154.8L94.7 155.4L97.6 154.2L96.3 152.6L92.9 152.2L89.2 151.5L92.6 149.6L96.0 150.0ZM248.2 177.3L254.2 176.4L256.5 174.1L260.2 173.1L267.1 174.6L271.5 174.1L273.2 176.6L275.2 178.8L280.6 178.0L289.7 177.2L295.1 175.8L300.9 175.2L304.5 175.3L304.0 177.7L301.8 182.3L300.7 186.6L301.8 191.0L305.6 194.0L313.0 195.4L305.3 196.1L305.3 196.1L304.1 195.8L304.5 196.6L299.5 195.0L293.1 192.7L287.3 190.9L279.3 191.4L274.4 192.0L274.3 189.1L273.2 185.3L272.0 182.6L265.9 180.6L266.0 178.9L264.4 177.0L259.3 176.4L258.7 178.2L259.7 181.9L257.4 181.2L256.9 179.7L253.2 179.0L248.9 177.8Z" fill="url(#stip)" fill-opacity="0.45"/><path d="M78.2 160.3h0.01M78.5 157.8h0.01M78.6 160.4h0.01M79.5 159.0h0.01M79.4 159.1h0.01M80.2 158.7h0.01M80.3 158.0h0.01M81.2 158.8h0.01M81.4 158.4h0.01M82.1 159.1h0.01M82.7 156.5h0.01M82.1 159.8h0.01M84.0 159.8h0.01M84.2 159.4h0.01M85.0 160.4h0.01M84.5 156.5h0.01M84.2 158.6h0.01M84.0 159.2h0.01M85.1 158.5h0.01M85.3 160.1h0.01M85.1 160.8h0.01M86.4 161.5h0.01M86.4 160.1h0.01M87.0 161.7h0.01M87.3 158.1h0.01M87.8 157.5h0.01M88.0 160.0h0.01M88.7 162.0h0.01M89.0 158.3h0.01M89.4 159.1h0.01M90.2 158.5h0.01M90.2 161.9h0.01M91.7 160.8h0.01M92.6 160.7h0.01M92.3 159.2h0.01M93.0 158.3h0.01M93.3 154.1h0.01M94.9 159.5h0.01M94.5 160.6h0.01M95.7 154.9h0.01M95.5 154.5h0.01M95.7 161.2h0.01M96.5 161.3h0.01M96.8 156.8h0.01M96.5 156.9h0.01M97.1 161.6h0.01M97.8 157.2h0.01M99.0 161.5h0.01M98.0 159.8h0.01M98.6 161.2h0.01M98.1 151.9h0.01M99.7 153.3h0.01M99.0 160.6h0.01M100.4 160.3h0.01M100.7 157.2h0.01M101.9 158.1h0.01M101.4 159.0h0.01M102.5 161.9h0.01M102.7 158.2h0.01M103.3 158.4h0.01M103.1 160.8h0.01M103.0 158.6h0.01M103.1 159.6h0.01M103.9 161.5h0.01M104.0 159.7h0.01M104.7 160.9h0.01M104.1 160.1h0.01M104.2 160.8h0.01M104.8 161.2h0.01M105.6 161.4h0.01M105.3 157.9h0.01M105.2 157.0h0.01M105.5 157.4h0.01M106.5 160.9h0.01M106.7 160.3h0.01M107.5 157.8h0.01M107.1 157.3h0.01M108.5 159.7h0.01M108.3 157.4h0.01M108.7 158.3h0.01M109.4 157.4h0.01M109.7 156.3h0.01M109.1 156.1h0.01M109.3 163.5h0.01M110.6 165.1h0.01M110.1 162.9h0.01M111.3 163.3h0.01M111.6 166.5h0.01M112.9 161.8h0.01M112.5 163.6h0.01M112.8 162.1h0.01M113.7 162.6h0.01M113.4 161.2h0.01M113.4 162.5h0.01M114.1 159.0h0.01M114.9 160.3h0.01M114.4 165.3h0.01M115.5 164.2h0.01M115.8 161.7h0.01M115.1 164.2h0.01M115.6 163.7h0.01M116.5 163.5h0.01M116.3 163.7h0.01M117.0 161.9h0.01M117.0 155.5h0.01M118.6 162.8h0.01M118.2 164.6h0.01M118.2 165.4h0.01M118.3 162.0h0.01M119.7 161.6h0.01M119.7 158.6h0.01M121.0 161.8h0.01M120.6 163.1h0.01M121.7 163.2h0.01M121.6 162.0h0.01M122.7 164.5h0.01M122.3 163.7h0.01M122.3 169.8h0.01M123.4 168.4h0.01M123.5 165.2h0.01M123.4 169.9h0.01M125.0 167.7h0.01M124.9 155.5h0.01M124.9 170.3h0.01M124.9 165.9h0.01M125.4 157.5h0.01M126.0 170.0h0.01M126.2 166.9h0.01M126.2 170.9h0.01M126.4 169.9h0.01M126.9 170.2h0.01M126.2 164.4h0.01M127.6 163.6h0.01M127.2 164.5h0.01M127.8 164.6h0.01M127.7 170.4h0.01M127.3 159.8h0.01M127.4 168.2h0.01M128.8 169.4h0.01M128.4 165.8h0.01M128.7 170.4h0.01M128.3 162.4h0.01M129.6 164.0h0.01M129.5 169.1h0.01M129.7 169.7h0.01M130.0 168.9h0.01M130.3 165.0h0.01M130.7 169.7h0.01M131.1 166.3h0.01M131.7 157.0h0.01M132.0 169.9h0.01M131.4 171.3h0.01M133.0 170.4h0.01M132.7 161.3h0.01M132.8 167.4h0.01M132.1 170.7h0.01M133.1 168.3h0.01M133.6 167.8h0.01M133.3 167.7h0.01M133.6 171.8h0.01M134.7 168.0h0.01M134.6 169.6h0.01M134.9 168.8h0.01M135.2 169.7h0.01M135.8 159.5h0.01M136.4 171.4h0.01M136.7 167.0h0.01M136.1 168.2h0.01M136.4 173.7h0.01M136.5 172.1h0.01M136.9 177.2h0.01M137.0 173.1h0.01M137.8 163.9h0.01M138.4 166.7h0.01M138.9 177.4h0.01M139.6 174.4h0.01M139.4 177.9h0.01M139.7 176.4h0.01M139.2 168.1h0.01M140.1 172.4h0.01M140.5 168.0h0.01M140.5 160.8h0.01M140.4 165.1h0.01M141.8 175.6h0.01M141.9 172.4h0.01M141.7 176.7h0.01M142.2 172.7h0.01M142.9 177.6h0.01M142.6 176.6h0.01M142.5 168.8h0.01M142.6 177.8h0.01M142.3 173.1h0.01M142.9 168.8h0.01M143.3 177.7h0.01M143.4 179.0h0.01M143.4 175.7h0.01M144.2 166.9h0.01M144.5 171.6h0.01M144.1 173.1h0.01M145.8 178.6h0.01M146.0 178.2h0.01M145.8 174.6h0.01M146.9 173.0h0.01M146.4 179.6h0.01M146.2 176.7h0.01M146.9 175.0h0.01M147.5 175.0h0.01M147.1 174.6h0.01M147.2 179.1h0.01M148.4 174.4h0.01M148.5 174.7h0.01M149.5 175.0h0.01M149.9 178.5h0.01M149.6 177.1h0.01M149.4 180.0h0.01M149.3 179.6h0.01M150.2 175.1h0.01M150.3 179.6h0.01M150.9 172.5h0.01M151.3 177.3h0.01M151.2 178.6h0.01M151.9 175.4h0.01M151.2 180.1h0.01M152.5 181.2h0.01M152.7 173.1h0.01M152.8 172.6h0.01M152.4 179.6h0.01M153.4 179.5h0.01M153.0 170.5h0.01M154.6 178.9h0.01M154.3 168.8h0.01M154.5 178.3h0.01M154.4 175.1h0.01M154.2 175.5h0.01M154.5 172.0h0.01M155.5 177.8h0.01M155.0 177.4h0.01M155.0 178.8h0.01M155.7 175.4h0.01M155.2 177.7h0.01M156.6 180.7h0.01M156.9 177.2h0.01M156.3 174.8h0.01M156.1 181.5h0.01M157.8 176.4h0.01M157.1 176.2h0.01M157.4 179.7h0.01M157.3 173.6h0.01M158.5 181.8h0.01M158.9 179.3h0.01M158.3 181.6h0.01M158.8 178.9h0.01M159.0 181.9h0.01M159.4 181.4h0.01M159.6 182.6h0.01M159.5 180.8h0.01M159.8 182.2h0.01M160.7 185.0h0.01M160.6 176.6h0.01M160.4 183.7h0.01M160.2 184.4h0.01M161.9 182.1h0.01M161.1 184.3h0.01M161.5 184.6h0.01M162.7 185.1h0.01M162.6 182.9h0.01M162.0 184.9h0.01M162.6 185.0h0.01M163.4 181.4h0.01M163.2 183.6h0.01M163.8 178.7h0.01M163.4 183.7h0.01M163.7 175.7h0.01M163.8 182.9h0.01M163.0 185.2h0.01M163.4 183.7h0.01M164.8 183.9h0.01M164.7 174.8h0.01M164.6 184.5h0.01M164.7 187.7h0.01M164.9 183.6h0.01M165.0 185.3h0.01M165.1 187.1h0.01M165.9 180.7h0.01M165.7 187.1h0.01M165.9 186.5h0.01M165.4 183.1h0.01M165.6 186.4h0.01M166.2 188.0h0.01M166.3 185.5h0.01M166.3 183.8h0.01M167.7 186.8h0.01M167.3 182.3h0.01M167.8 184.6h0.01M167.7 184.1h0.01M167.5 186.3h0.01M167.1 189.0h0.01M168.6 180.0h0.01M168.7 184.8h0.01M168.4 188.8h0.01M168.5 190.9h0.01M169.4 183.8h0.01M169.4 191.6h0.01M169.8 190.9h0.01M169.3 179.0h0.01M170.6 191.1h0.01M170.4 179.9h0.01M170.8 174.5h0.01M170.4 190.3h0.01M171.2 189.6h0.01M171.2 188.4h0.01M171.0 182.9h0.01M171.2 189.6h0.01M172.7 190.1h0.01M173.0 188.4h0.01M172.2 179.9h0.01M172.2 188.4h0.01M172.1 186.1h0.01M172.1 186.1h0.01M173.7 187.4h0.01M173.5 186.5h0.01M173.0 179.7h0.01M173.2 186.0h0.01M175.0 187.4h0.01M174.7 189.6h0.01M174.4 184.4h0.01M174.2 179.3h0.01M174.6 186.6h0.01M174.6 180.7h0.01M175.2 188.1h0.01M175.0 185.7h0.01M175.0 190.7h0.01M175.3 184.4h0.01M175.5 188.8h0.01M176.4 184.0h0.01M176.8 190.9h0.01M176.9 187.3h0.01M176.6 182.1h0.01M177.4 190.4h0.01M177.7 186.3h0.01M177.0 194.8h0.01M177.9 193.6h0.01M177.7 189.0h0.01M177.6 194.9h0.01M178.3 189.2h0.01M178.9 191.0h0.01M178.1 187.3h0.01M178.7 189.1h0.01M178.2 195.0h0.01M178.6 189.6h0.01M178.5 191.1h0.01M178.8 192.8h0.01M179.9 188.9h0.01M179.9 192.8h0.01M179.4 195.7h0.01M179.8 195.4h0.01M179.5 190.7h0.01M179.5 189.9h0.01M180.4 187.5h0.01M180.8 188.2h0.01M180.9 191.3h0.01M180.9 190.6h0.01M180.8 190.8h0.01M181.3 194.9h0.01M181.7 192.2h0.01M181.2 184.9h0.01M181.7 196.4h0.01M181.7 195.9h0.01M181.9 193.4h0.01M181.0 196.0h0.01M181.1 194.8h0.01M182.1 193.9h0.01M182.5 193.7h0.01M182.9 190.2h0.01M182.2 188.6h0.01M182.5 188.4h0.01M182.2 174.7h0.01M182.1 195.5h0.01M184.0 191.5h0.01M183.4 196.9h0.01M183.9 191.8h0.01M183.9 195.6h0.01M183.3 185.9h0.01M183.1 195.7h0.01M184.0 192.8h0.01M183.6 189.6h0.01M184.4 178.4h0.01M184.9 193.1h0.01M184.3 191.4h0.01M185.3 188.5h0.01M185.3 195.8h0.01M185.1 193.5h0.01M185.6 195.8h0.01M185.9 186.8h0.01M185.0 196.0h0.01M185.8 192.4h0.01M185.7 196.3h0.01M185.0 186.9h0.01M186.7 182.0h0.01M186.5 191.9h0.01M186.9 186.2h0.01M186.9 190.6h0.01M186.4 193.8h0.01M186.5 192.9h0.01M187.5 192.4h0.01M187.0 195.1h0.01M187.8 191.3h0.01M187.1 193.9h0.01M187.4 193.8h0.01M188.8 192.7h0.01M189.0 180.8h0.01M188.6 194.5h0.01M188.3 197.2h0.01M188.2 187.0h0.01M189.0 194.2h0.01M188.2 190.3h0.01M188.5 196.1h0.01M188.6 185.4h0.01M188.5 196.0h0.01M188.2 190.1h0.01M188.6 194.0h0.01M189.6 187.2h0.01M189.8 182.7h0.01M189.3 189.2h0.01M189.7 184.8h0.01M189.1 185.4h0.01M189.0 195.7h0.01M189.1 194.8h0.01M189.2 193.1h0.01M189.6 187.6h0.01M189.0 191.6h0.01M191.0 194.8h0.01M190.9 182.9h0.01M190.8 189.5h0.01M190.5 197.2h0.01M190.6 196.7h0.01M190.1 193.2h0.01M190.5 193.4h0.01M191.7 186.2h0.01M191.5 195.1h0.01M191.6 194.5h0.01M191.9 195.4h0.01M191.9 189.7h0.01M191.9 188.6h0.01M192.6 194.7h0.01M192.7 197.2h0.01M192.7 192.1h0.01M192.8 192.7h0.01M193.2 194.4h0.01M193.9 194.0h0.01M193.1 193.6h0.01M193.1 186.4h0.01M193.5 186.6h0.01M194.0 192.7h0.01M193.3 184.2h0.01M193.7 189.7h0.01M194.1 191.7h0.01M194.3 193.4h0.01M194.3 191.5h0.01M194.3 192.7h0.01M196.0 188.4h0.01M195.4 193.5h0.01M195.1 192.7h0.01M195.1 195.3h0.01M195.8 193.8h0.01M195.7 192.5h0.01M195.5 189.5h0.01M195.2 195.6h0.01M195.6 192.9h0.01M195.8 192.5h0.01M197.0 195.3h0.01M196.7 191.9h0.01M196.0 191.1h0.01M196.8 194.2h0.01M196.7 191.0h0.01M196.1 191.4h0.01M197.2 192.9h0.01M197.2 192.7h0.01M197.2 188.0h0.01M197.6 193.6h0.01M197.0 193.6h0.01M197.9 192.3h0.01M199.0 194.5h0.01M198.8 189.9h0.01M198.9 191.6h0.01M198.7 194.4h0.01M199.0 190.4h0.01M198.2 193.8h0.01M198.2 193.8h0.01M198.8 193.4h0.01M198.8 189.6h0.01M198.3 193.7h0.01M199.8 187.7h0.01M199.9 193.2h0.01M199.5 192.4h0.01M199.6 191.3h0.01M199.7 191.2h0.01M199.3 188.9h0.01M200.4 191.4h0.01M200.5 188.7h0.01M200.1 192.6h0.01M200.3 193.7h0.01M201.5 192.9h0.01M201.9 187.7h0.01M201.3 194.4h0.01M201.8 192.2h0.01M201.6 190.3h0.01M201.2 192.0h0.01M202.2 194.3h0.01M202.2 186.0h0.01M202.9 193.5h0.01M203.8 186.7h0.01M203.6 194.7h0.01M203.2 192.2h0.01M203.3 187.6h0.01M204.0 193.3h0.01M203.3 188.7h0.01M203.5 193.8h0.01M203.8 191.5h0.01M205.0 188.6h0.01M204.1 190.4h0.01M204.7 191.7h0.01M204.2 193.9h0.01M204.2 192.5h0.01M205.4 192.2h0.01M205.5 193.1h0.01M205.7 184.6h0.01M205.3 193.7h0.01M206.0 191.6h0.01M205.7 185.9h0.01M205.5 193.2h0.01M206.8 190.9h0.01M206.7 192.8h0.01M206.2 187.2h0.01M206.2 192.2h0.01M206.1 191.6h0.01M206.9 194.4h0.01M207.3 191.2h0.01M207.3 189.8h0.01M207.8 191.7h0.01M207.7 193.6h0.01M207.1 191.0h0.01M207.9 194.0h0.01M207.2 193.6h0.01M207.8 190.0h0.01M207.8 193.8h0.01M207.6 192.8h0.01M207.4 192.4h0.01M207.3 189.8h0.01M208.0 185.0h0.01M208.4 187.8h0.01M208.7 193.5h0.01M208.0 191.8h0.01M208.5 192.1h0.01M208.3 192.7h0.01M208.3 188.3h0.01M209.4 192.3h0.01M209.9 192.2h0.01M209.3 194.5h0.01M209.4 192.1h0.01M209.2 187.1h0.01M209.1 190.7h0.01M210.4 187.2h0.01M210.5 193.7h0.01M210.1 191.1h0.01M210.6 193.0h0.01M210.3 192.1h0.01M210.3 193.7h0.01M211.3 190.3h0.01M211.9 191.5h0.01M211.8 193.3h0.01M211.9 192.0h0.01M211.5 193.5h0.01M211.3 193.4h0.01M212.0 188.8h0.01M211.8 193.4h0.01M212.4 191.3h0.01M212.1 191.4h0.01M212.4 192.6h0.01M212.2 190.1h0.01M212.8 189.6h0.01M213.8 188.1h0.01M213.7 189.5h0.01M213.3 190.8h0.01M213.6 193.1h0.01M213.8 190.1h0.01M213.7 187.1h0.01M213.1 191.9h0.01M213.6 191.3h0.01M214.2 190.5h0.01M214.5 191.6h0.01M214.2 191.4h0.01M214.6 190.4h0.01M214.4 188.9h0.01M214.3 188.6h0.01M214.8 193.0h0.01M215.9 186.3h0.01M215.0 187.7h0.01M215.7 192.2h0.01M215.4 192.3h0.01M215.8 192.7h0.01M216.3 190.3h0.01M216.4 190.8h0.01M216.5 190.9h0.01M216.4 187.4h0.01M216.6 187.0h0.01M216.3 188.9h0.01M216.3 187.9h0.01M216.5 189.5h0.01M216.7 191.7h0.01M217.1 189.6h0.01M217.3 191.1h0.01M217.9 189.8h0.01M217.1 190.6h0.01M217.2 188.6h0.01M218.6 188.0h0.01M218.7 188.2h0.01M218.6 188.5h0.01M219.0 189.1h0.01M219.0 188.5h0.01M218.5 189.2h0.01M218.7 191.1h0.01M219.0 183.2h0.01M219.3 183.2h0.01M219.6 188.6h0.01M219.1 189.1h0.01M219.8 185.9h0.01M220.4 189.8h0.01M220.6 189.9h0.01M220.2 189.6h0.01M220.1 187.8h0.01M220.0 187.0h0.01M220.0 190.4h0.01M220.3 187.5h0.01M220.1 187.3h0.01M221.5 191.0h0.01M222.0 186.2h0.01M221.8 186.4h0.01M221.9 183.3h0.01M221.9 188.9h0.01M221.4 188.9h0.01M221.9 186.2h0.01M221.0 190.9h0.01M221.5 186.8h0.01M222.0 190.3h0.01M222.3 191.9h0.01M222.5 191.3h0.01M222.9 187.9h0.01M222.7 191.7h0.01M222.9 191.0h0.01M223.5 187.8h0.01M223.0 191.2h0.01M223.8 186.3h0.01M223.9 191.8h0.01M223.8 191.4h0.01M223.8 191.1h0.01M224.0 188.4h0.01M223.8 190.1h0.01M223.5 192.3h0.01M224.6 192.6h0.01M224.2 192.6h0.01M224.6 187.4h0.01M224.2 191.5h0.01M224.1 190.1h0.01M224.6 188.9h0.01M225.4 188.3h0.01M225.8 190.5h0.01M225.4 189.3h0.01M226.9 188.8h0.01M226.5 189.1h0.01M226.2 191.4h0.01M226.1 188.9h0.01M226.2 187.8h0.01M226.0 191.9h0.01M226.1 185.1h0.01M227.2 191.1h0.01M227.4 191.2h0.01M228.1 192.0h0.01M228.9 190.1h0.01M228.5 188.8h0.01M228.5 188.7h0.01M228.9 190.3h0.01M228.2 192.1h0.01M228.7 184.7h0.01M230.0 191.1h0.01M229.9 188.3h0.01M229.1 184.7h0.01M229.9 189.4h0.01M229.3 188.6h0.01M230.0 183.9h0.01M229.9 189.2h0.01M230.9 191.3h0.01M230.8 191.0h0.01M230.5 192.3h0.01M230.6 189.4h0.01M230.8 189.1h0.01M230.1 190.3h0.01M230.0 187.2h0.01M231.4 186.7h0.01M231.1 190.7h0.01M231.1 187.3h0.01M231.4 192.9h0.01M233.0 188.6h0.01M232.7 190.9h0.01M232.5 190.5h0.01M232.3 182.0h0.01M232.0 183.5h0.01M232.2 192.3h0.01M233.6 188.6h0.01M233.5 191.9h0.01M233.3 191.2h0.01M233.1 190.2h0.01M233.3 192.1h0.01M233.7 190.5h0.01M234.7 187.0h0.01M234.1 192.2h0.01M234.2 186.7h0.01M234.7 186.5h0.01M234.8 190.2h0.01M234.0 192.3h0.01M234.8 190.4h0.01M234.9 192.0h0.01M235.3 184.5h0.01M235.2 191.7h0.01M235.7 190.9h0.01M235.9 191.4h0.01M236.0 190.0h0.01M236.0 190.4h0.01M236.1 190.0h0.01M236.8 189.5h0.01M236.9 186.4h0.01M236.8 185.8h0.01M237.1 192.0h0.01M237.9 188.3h0.01M237.3 187.9h0.01M237.1 190.0h0.01M237.2 192.2h0.01M239.0 187.1h0.01M238.8 183.9h0.01M238.2 184.9h0.01M239.0 189.8h0.01M238.3 188.6h0.01M238.8 184.8h0.01M238.1 191.6h0.01M238.2 190.0h0.01M238.6 189.8h0.01M239.3 190.0h0.01M239.2 190.1h0.01M239.2 186.0h0.01M239.7 187.4h0.01M239.9 180.5h0.01M239.4 189.5h0.01M239.7 192.0h0.01M240.0 190.5h0.01M239.0 190.1h0.01M240.4 191.1h0.01M240.2 189.1h0.01M240.7 184.6h0.01M240.4 192.4h0.01M241.7 188.5h0.01M241.3 188.4h0.01M241.5 186.7h0.01M241.1 191.6h0.01M242.0 186.1h0.01M241.8 185.3h0.01M242.3 185.8h0.01M242.6 188.0h0.01M242.4 192.0h0.01M242.6 187.1h0.01M242.4 189.6h0.01M242.8 191.6h0.01M242.7 190.7h0.01M242.2 186.9h0.01M243.9 184.8h0.01M243.1 190.0h0.01M243.2 190.8h0.01M243.3 191.0h0.01M243.8 184.8h0.01M244.0 190.3h0.01M243.3 190.6h0.01M245.0 186.6h0.01M244.3 187.4h0.01M244.8 189.1h0.01M244.5 184.8h0.01M244.0 187.9h0.01M245.5 181.2h0.01M245.7 187.5h0.01M245.6 188.0h0.01M245.8 183.2h0.01M245.3 181.4h0.01M245.5 188.1h0.01M246.0 190.0h0.01M245.5 183.0h0.01M246.2 182.3h0.01M246.4 189.0h0.01M246.3 182.4h0.01M246.7 184.3h0.01M246.2 179.5h0.01M247.4 184.8h0.01M247.8 184.9h0.01M247.2 186.4h0.01M247.7 187.7h0.01M247.8 186.3h0.01M247.6 188.0h0.01M248.0 184.5h0.01M247.7 188.4h0.01M247.2 185.8h0.01M248.2 185.7h0.01M248.3 182.6h0.01M248.6 184.5h0.01M248.5 187.3h0.01M248.9 183.1h0.01M248.8 183.0h0.01M248.7 187.2h0.01M249.3 179.7h0.01M249.9 183.0h0.01M249.4 185.1h0.01M249.6 182.7h0.01M249.6 184.0h0.01M249.6 185.9h0.01M249.1 181.1h0.01M249.7 177.0h0.01M249.6 184.8h0.01M250.4 182.0h0.01M250.5 185.1h0.01M250.5 184.8h0.01M250.1 184.9h0.01M250.5 184.7h0.01M250.4 182.4h0.01M250.3 178.9h0.01M250.3 178.8h0.01M251.3 180.7h0.01M251.6 185.2h0.01M251.8 183.3h0.01M251.1 184.9h0.01M251.2 182.8h0.01M252.4 180.1h0.01M252.9 181.1h0.01M252.5 182.6h0.01M252.7 183.9h0.01M252.5 183.7h0.01M252.5 180.6h0.01M252.3 180.4h0.01M253.4 181.5h0.01M253.4 185.1h0.01M253.9 179.6h0.01M254.7 184.9h0.01M254.2 185.1h0.01M254.0 180.6h0.01M254.4 181.1h0.01M254.2 181.8h0.01M255.9 183.2h0.01M255.3 183.0h0.01M255.4 184.1h0.01M255.1 180.5h0.01M255.9 176.8h0.01M256.8 184.6h0.01M256.2 181.5h0.01M256.3 178.3h0.01M257.6 180.4h0.01M257.1 182.2h0.01M257.1 183.2h0.01M258.5 179.3h0.01M258.5 177.3h0.01M258.1 175.2h0.01M259.3 178.8h0.01M259.1 177.7h0.01M260.3 175.9h0.01M260.9 174.7h0.01M260.7 174.2h0.01M260.7 176.1h0.01M260.4 174.1h0.01M260.8 174.4h0.01M260.9 174.9h0.01M260.1 175.7h0.01M261.4 173.2h0.01M262.2 173.5h0.01M262.1 175.6h0.01M262.7 174.4h0.01M263.0 175.7h0.01M263.2 176.5h0.01M263.7 173.8h0.01M264.0 175.8h0.01M263.6 174.8h0.01M264.5 177.2h0.01M264.7 175.1h0.01M265.5 180.2h0.01M265.0 176.9h0.01M266.3 178.2h0.01M266.8 179.0h0.01M267.0 176.5h0.01M266.6 178.3h0.01M266.6 179.6h0.01M267.8 178.8h0.01M267.8 179.0h0.01M267.3 180.9h0.01M268.3 181.0h0.01M268.4 177.3h0.01M269.4 178.0h0.01M270.0 181.1h0.01M269.4 181.6h0.01M269.0 181.2h0.01M269.7 181.7h0.01M270.2 178.4h0.01M271.7 181.8h0.01M271.8 181.5h0.01M271.2 182.2h0.01M271.4 182.2h0.01M272.7 183.3h0.01M272.7 183.4h0.01M272.1 183.8h0.01M273.0 180.9h0.01M273.1 183.2h0.01M274.3 190.1h0.01M274.1 190.4h0.01M274.7 189.7h0.01M274.9 183.8h0.01M274.2 190.4h0.01M275.2 188.4h0.01M275.3 186.8h0.01M275.7 190.9h0.01M275.3 188.3h0.01M276.7 184.6h0.01M276.0 190.7h0.01M277.0 180.4h0.01M277.9 190.5h0.01M279.4 187.2h0.01M279.0 182.5h0.01M279.6 190.0h0.01M280.7 186.4h0.01M281.9 180.3h0.01M281.2 188.7h0.01M281.2 187.8h0.01M281.0 190.8h0.01M281.3 190.0h0.01M282.9 188.7h0.01M282.2 188.7h0.01M282.2 182.5h0.01M283.2 186.0h0.01M283.1 187.8h0.01M283.5 182.7h0.01M283.8 179.1h0.01M283.0 185.5h0.01M284.5 186.9h0.01M284.7 186.6h0.01M285.1 190.5h0.01M285.6 190.2h0.01M286.5 184.5h0.01M286.5 185.4h0.01M286.4 186.8h0.01M287.6 187.2h0.01M287.7 186.4h0.01M288.2 185.9h0.01M290.5 187.3h0.01M290.3 182.5h0.01M290.9 191.0h0.01M291.6 191.8h0.01M291.0 183.0h0.01M291.9 188.8h0.01M291.6 187.8h0.01M292.5 190.0h0.01M292.7 188.0h0.01M293.3 185.9h0.01M294.0 188.1h0.01M294.9 186.7h0.01M294.8 187.7h0.01M294.3 187.1h0.01M295.7 188.3h0.01M296.0 180.9h0.01M295.6 192.6h0.01M295.2 189.1h0.01M296.7 189.6h0.01M296.4 193.0h0.01M296.3 188.6h0.01M297.5 189.3h0.01M298.0 181.9h0.01M297.6 178.5h0.01M297.9 191.6h0.01M299.0 191.0h0.01M298.7 186.1h0.01M298.0 185.1h0.01M299.5 176.4h0.01M299.1 188.3h0.01M299.8 189.8h0.01M300.4 193.0h0.01M300.3 191.4h0.01M300.5 188.2h0.01M301.4 187.4h0.01M302.0 188.7h0.01M302.1 195.6h0.01M302.1 189.1h0.01M303.8 193.6h0.01M306.1 195.2h0.01M307.9 194.2h0.01" stroke="#666" stroke-opacity="0.35" stroke-width="1.0" stroke-linecap="round" fill="none"/><path d="M111.4 153.2L118.1 153.4L122.2 155.0L129.7 157.0L138.8 157.9L143.6 160.6L147.9 164.1L152.7 166.9L157.6 169.6L156.7 171.8L161.4 173.2L165.0 173.3L169.2 173.1L179.3 173.8L183.9 172.9L189.5 175.0L183.1 175.1L180.1 175.6L185.4 178.1L191.9 181.1L203.2 182.1L210.1 183.6L215.6 183.4L221.2 183.3L227.8 182.8L231.1 180.3L235.3 180.8L239.0 179.1L247.4 179.6L248.0 181.7L250.2 181.8L248.5 183.3L253.6 183.9L255.4 183.1L255.2 181.8L257.3 184.6L254.6 185.3L249.4 186.4L247.7 188.5L244.7 190.6L241.1 192.9L235.3 193.5L230.5 193.1L225.0 193.9L222.9 192.1L218.6 191.6L213.5 193.3L209.6 194.7L205.4 194.8L197.6 194.9L192.7 197.9L186.8 197.2L183.1 197.1L177.3 195.3L181.6 194.2L185.9 194.7L184.2 192.8L180.4 193.2L178.5 193.4L177.9 191.2L175.7 191.1L169.3 191.8L167.6 190.9L172.1 189.4L168.1 188.5L163.8 187.9L160.0 184.3L156.4 181.9L160.4 182.8L160.3 179.9L154.6 179.4L152.5 182.3L146.6 179.8L141.0 179.4L136.2 179.0L136.4 176.2L137.8 173.9L143.1 174.1L147.3 174.0L145.1 172.2L143.1 169.4L139.5 167.7L135.4 166.2L131.2 163.9L125.8 160.7L122.3 159.7L118.3 158.7L116.3 156.6L113.3 154.7ZM112.1 160.7L115.9 162.0L121.5 162.5L125.8 163.1L128.6 165.3L132.1 166.4L135.1 168.2L137.1 171.0L134.0 172.5L129.1 171.5L126.6 171.2L122.9 170.5L124.0 168.5L120.4 166.8L114.3 166.5L111.3 167.0L109.6 165.1L111.2 164.0L113.4 162.4ZM97.0 149.1L101.3 150.2L104.5 151.7L108.8 152.2L111.4 153.2L109.8 155.3L111.9 157.1L112.1 158.4L108.3 159.4L107.7 161.2L103.1 162.1L96.2 162.3L89.5 162.8L86.1 162.3L85.4 161.2L78.4 160.7L81.0 159.4L79.3 159.1L78.0 157.5L80.4 156.5L85.1 156.3L86.8 154.8L94.7 155.4L97.6 154.2L96.3 152.6L92.9 152.2L89.2 151.5L92.6 149.6L96.0 150.0ZM248.2 177.3L254.2 176.4L256.5 174.1L260.2 173.1L267.1 174.6L271.5 174.1L273.2 176.6L275.2 178.8L280.6 178.0L289.7 177.2L295.1 175.8L300.9 175.2L304.5 175.3L304.0 177.7L301.8 182.3L300.7 186.6L301.8 191.0L305.6 194.0L313.0 195.4L305.3 196.1L305.3 196.1L304.1 195.8L304.5 196.6L299.5 195.0L293.1 192.7L287.3 190.9L279.3 191.4L274.4 192.0L274.3 189.1L273.2 185.3L272.0 182.6L265.9 180.6L266.0 178.9L264.4 177.0L259.3 176.4L258.7 178.2L259.7 181.9L257.4 181.2L256.9 179.7L253.2 179.0L248.9 177.8Z" fill="none" stroke="#555" stroke-opacity="0.8" stroke-width="0.5" stroke-linejoin="round"/><path d="M63.3 86.5V160.1M63.3 160.1L156.6 235.3L318.1 192.0M63.3 160.10l-3.4 -1.5M63.3 141.70l-3.4 -1.5M63.3 123.30l-3.4 -1.5M63.3 104.90l-3.4 -1.5M63.3 86.50l-3.4 -1.5M63.30 160.10l-3.66 1.01M69.52 165.11l-1.93 0.53M75.74 170.13l-1.93 0.53M81.96 175.14l-1.93 0.53M88.18 180.15l-1.93 0.53M94.40 185.17l-3.66 1.01M100.62 190.18l-1.93 0.53M106.84 195.19l-1.93 0.53M113.06 200.21l-1.93 0.53M119.28 205.22l-1.93 0.53M125.50 210.23l-3.66 1.01M131.72 215.25l-1.93 0.53M137.94 220.26l-1.93 0.53M144.16 225.27l-1.93 0.53M150.38 230.29l-1.93 0.53M156.60 235.30l-3.66 1.01M156.60 235.30l2.96 2.39M167.37 232.41l1.56 1.26M178.13 229.53l1.56 1.26M188.90 226.64l1.56 1.26M199.67 223.75l1.56 1.26M210.43 220.87l2.96 2.39M221.20 217.98l1.56 1.26M231.97 215.09l1.56 1.26M242.73 212.21l1.56 1.26M253.50 209.32l1.56 1.26M264.27 206.43l2.96 2.39M275.03 203.55l1.56 1.26M285.80 200.66l1.56 1.26M296.57 197.77l1.56 1.26M307.33 194.89l1.56 1.26M318.10 192.00l2.96 2.39" stroke="#262626" stroke-width="0.9" fill="none"/><g font-family='"Liberation Sans", sans-serif' font-size="13.6" fill="#1a1a1a" stroke="#1a1a1a" stroke-width="0.2"><text x="40.1" y="158.7" text-anchor="middle">0</text><text x="40.1" y="139.2" text-anchor="middle">250</text><text x="40.1" y="121.7" text-anchor="middle">500</text><text x="40.1" y="104.2" text-anchor="middle">750</text><text x="40.1" y="86.7" text-anchor="middle">1000</text><text x="73.8" y="200.8" text-anchor="middle">135</text><text x="104.9" y="225.8" text-anchor="middle">140</text><text x="135.9" y="250.6" text-anchor="middle">145</text><text x="172.35" y="254.6" text-anchor="middle">30</text><text x="225.85" y="239.9" text-anchor="middle">35</text><text x="279.4" y="226.3" text-anchor="middle">40</text><text x="332.55" y="211.6" text-anchor="middle">45</text><text transform="translate(15.8,122.85) rotate(-90)" text-anchor="middle" font-size="14.3">Height (km)</text><text transform="translate(45.1,214.2) rotate(45)" text-anchor="middle" font-size="14.6">Longitude (°E)</text><text transform="translate(276.3,246.6) rotate(-16.5)" text-anchor="middle" font-size="14.5">Latitude (°N)</text><text x="76.5" y="66.5" font-size="14">(a) 09:30 UT</text></g></svg></body></html>
